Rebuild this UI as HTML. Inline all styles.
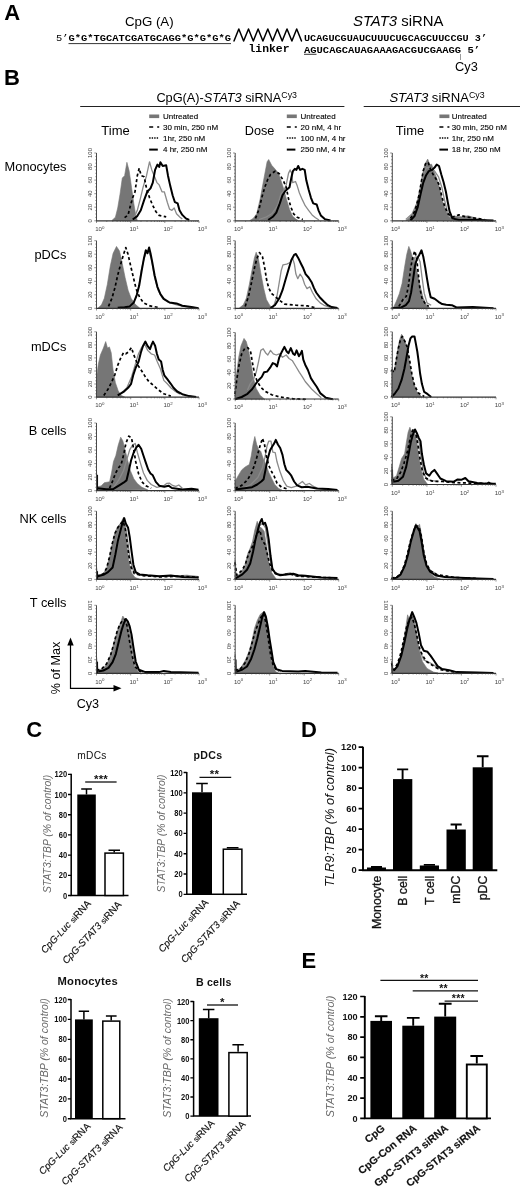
<!DOCTYPE html>
<html><head><meta charset="utf-8"><title>Figure</title>
<style>
html,body{margin:0;padding:0;background:#fff;}
body{width:520px;height:1191px;overflow:hidden;font-family:"Liberation Sans",sans-serif;}
svg{display:block;font-family:"Liberation Sans",sans-serif;}
#w{width:520px;height:1191px;overflow:hidden;filter:grayscale(1) blur(0.35px);background:#fff;}
</style></head><body>
<div id="w"><svg width="520" height="1191" viewBox="0 0 520 1191">
<rect width="520" height="1191" fill="#fff"/>
<g><path d="M111.9 220.5 L115.4 217.2 L117.7 208.0 L120.0 194.2 L122.3 178.0 L124.6 175.7 L126.9 162.3 L129.2 171.1 L131.5 187.2 L133.8 203.4 L135.7 214.9 L137.3 220.5Z" fill="#767676" stroke="#767676" stroke-width="0.6"/>
<path d="M133.8 218.4 L137.3 210.3 L140.3 198.8 L143.1 187.2 L146.5 175.7 L149.5 161.8 L151.8 169.9 L154.2 175.7 L156.9 182.6 L159.2 184.9 L162.0 191.8 L164.3 191.8 L167.3 202.2 L169.6 209.2 L171.9 210.3 L174.2 208.0 L176.5 213.8 L180.0 217.2 L182.3 219.1" fill="none" stroke="#8a8a8a" stroke-width="1.3" stroke-linejoin="round"/>
<path d="M124.6 217.7 L128.1 214.9 L130.4 205.7 L132.7 197.6 L135.0 191.8 L137.3 175.7 L139.2 168.3 L141.2 175.7 L144.2 176.8 L146.5 188.4 L149.5 197.6 L152.3 204.5 L155.8 211.5 L159.2 215.4 L166.2 216.8" fill="none" stroke="#000" stroke-width="1.7" stroke-dasharray="3 2.5" stroke-linejoin="round"/>
<path d="M132.7 219.5 L137.3 216.1 L140.8 210.3 L144.2 199.9 L147.2 191.8 L150.5 188.4 L152.8 182.6 L155.1 169.9 L157.4 164.6 L159.2 166.9 L160.4 162.3 L162.7 166.0 L166.2 165.3 L168.0 175.7 L170.3 186.1 L172.6 195.3 L174.9 202.2 L177.7 203.4 L179.5 210.3 L182.3 214.9 L185.8 218.4 L189.2 220.0" fill="none" stroke="#000" stroke-width="2.0" stroke-linejoin="round"/>
<path d="M96.5 153.0 V220.8" fill="none" stroke="#4a4a4a" stroke-width="1"/>
<path d="M96.0 220.8 H199.0" fill="none" stroke="#333" stroke-width="1.2"/>
<path d="M96.5 220.8 h-2.2 M96.5 217.4 h-1.2 M96.5 214.0 h-1.2 M96.5 210.6 h-1.2 M96.5 207.2 h-2.2 M96.5 203.9 h-1.2 M96.5 200.5 h-1.2 M96.5 197.1 h-1.2 M96.5 193.7 h-2.2 M96.5 190.3 h-1.2 M96.5 186.9 h-1.2 M96.5 183.5 h-1.2 M96.5 180.1 h-2.2 M96.5 176.7 h-1.2 M96.5 173.3 h-1.2 M96.5 169.9 h-1.2 M96.5 166.6 h-2.2 M96.5 163.2 h-1.2 M96.5 159.8 h-1.2 M96.5 156.4 h-1.2 M96.5 153.0 h-2.2 M96.5 220.8 v2.2 M106.8 220.8 v1.2 M112.8 220.8 v1.2 M117.1 220.8 v1.2 M120.4 220.8 v1.2 M123.1 220.8 v1.2 M125.4 220.8 v1.2 M127.4 220.8 v1.2 M129.1 220.8 v1.2 M130.7 220.8 v2.2 M141.0 220.8 v1.2 M147.0 220.8 v1.2 M151.2 220.8 v1.2 M154.5 220.8 v1.2 M157.3 220.8 v1.2 M159.5 220.8 v1.2 M161.5 220.8 v1.2 M163.3 220.8 v1.2 M164.8 220.8 v2.2 M175.1 220.8 v1.2 M181.1 220.8 v1.2 M185.4 220.8 v1.2 M188.7 220.8 v1.2 M191.4 220.8 v1.2 M193.7 220.8 v1.2 M195.7 220.8 v1.2 M197.4 220.8 v1.2 M199.0 220.8 v2.2" stroke="#4a4a4a" stroke-width="0.6" fill="none"/>
<text x="92.3" y="220.8" transform="rotate(-90 92.3 220.8)" text-anchor="middle" font-size="5.9" fill="#444">0</text>
<text x="92.3" y="207.2" transform="rotate(-90 92.3 207.2)" text-anchor="middle" font-size="5.9" fill="#444">20</text>
<text x="92.3" y="193.7" transform="rotate(-90 92.3 193.7)" text-anchor="middle" font-size="5.9" fill="#444">40</text>
<text x="92.3" y="180.1" transform="rotate(-90 92.3 180.1)" text-anchor="middle" font-size="5.9" fill="#444">60</text>
<text x="92.3" y="166.6" transform="rotate(-90 92.3 166.6)" text-anchor="middle" font-size="5.9" fill="#444">80</text>
<text x="92.3" y="153.0" transform="rotate(-90 92.3 153.0)" text-anchor="middle" font-size="5.9" fill="#444">100</text>
<text x="99.8" y="231.0" text-anchor="middle" font-size="6.1" fill="#444">10<tspan dy="-2.1" font-size="4.4">0</tspan></text>
<text x="134.0" y="231.0" text-anchor="middle" font-size="6.1" fill="#444">10<tspan dy="-2.1" font-size="4.4">1</tspan></text>
<text x="168.1" y="231.0" text-anchor="middle" font-size="6.1" fill="#444">10<tspan dy="-2.1" font-size="4.4">2</tspan></text>
<text x="202.3" y="231.0" text-anchor="middle" font-size="6.1" fill="#444">10<tspan dy="-2.1" font-size="4.4">3</tspan></text></g>
<g><path d="M249.8 220.5 L253.2 218.4 L256.7 213.8 L260.2 198.8 L263.6 180.3 L267.1 161.8 L268.7 159.5 L271.7 165.3 L275.2 169.2 L278.6 173.4 L283.2 187.2 L286.7 199.9 L289.5 209.2 L292.5 216.1 L295.9 219.1 L298.2 220.5Z" fill="#767676" stroke="#767676" stroke-width="0.6"/>
<path d="M259.0 219.5 L265.9 217.2 L271.7 213.8 L275.2 209.2 L277.9 204.5 L280.9 194.2 L283.9 190.7 L286.2 184.9 L288.5 173.4 L290.2 169.9 L291.8 173.4 L292.7 182.6 L295.5 181.5 L297.3 186.1 L299.4 193.0 L302.4 199.9 L305.2 205.7 L308.6 210.3 L312.1 214.9 L315.5 217.7 L319.0 220.0" fill="none" stroke="#8a8a8a" stroke-width="1.3" stroke-linejoin="round"/>
<path d="M255.5 218.4 L259.0 209.2 L261.8 197.6 L264.8 187.2 L267.8 179.2 L270.5 174.5 L275.2 171.1 L279.3 173.8 L283.2 180.3 L286.2 187.2 L288.5 198.8 L290.8 206.8 L293.6 213.8 L297.1 217.2 L302.8 219.5" fill="none" stroke="#000" stroke-width="1.7" stroke-dasharray="3 2.5" stroke-linejoin="round"/>
<path d="M268.2 220.0 L272.8 216.8 L276.3 212.6 L279.8 203.4 L282.5 195.3 L285.5 190.7 L289.5 187.2 L291.3 178.0 L292.9 171.1 L294.8 168.8 L296.4 169.9 L298.2 166.0 L300.1 169.9 L302.4 168.8 L304.7 169.9 L306.3 180.3 L308.6 189.5 L310.9 197.6 L313.2 203.4 L316.7 204.5 L318.5 210.3 L320.8 215.4 L324.8 219.1 L330.5 220.5" fill="none" stroke="#000" stroke-width="2.0" stroke-linejoin="round"/>
<path d="M235.2 153.0 V220.8" fill="none" stroke="#4a4a4a" stroke-width="1"/>
<path d="M234.7 220.8 H338.7" fill="none" stroke="#333" stroke-width="1.2"/>
<path d="M235.2 220.8 h-2.2 M235.2 217.4 h-1.2 M235.2 214.0 h-1.2 M235.2 210.6 h-1.2 M235.2 207.2 h-2.2 M235.2 203.9 h-1.2 M235.2 200.5 h-1.2 M235.2 197.1 h-1.2 M235.2 193.7 h-2.2 M235.2 190.3 h-1.2 M235.2 186.9 h-1.2 M235.2 183.5 h-1.2 M235.2 180.1 h-2.2 M235.2 176.7 h-1.2 M235.2 173.3 h-1.2 M235.2 169.9 h-1.2 M235.2 166.6 h-2.2 M235.2 163.2 h-1.2 M235.2 159.8 h-1.2 M235.2 156.4 h-1.2 M235.2 153.0 h-2.2 M235.2 220.8 v2.2 M245.6 220.8 v1.2 M251.7 220.8 v1.2 M256.0 220.8 v1.2 M259.3 220.8 v1.2 M262.0 220.8 v1.2 M264.4 220.8 v1.2 M266.4 220.8 v1.2 M268.1 220.8 v1.2 M269.7 220.8 v2.2 M280.1 220.8 v1.2 M286.2 220.8 v1.2 M290.5 220.8 v1.2 M293.8 220.8 v1.2 M296.5 220.8 v1.2 M298.9 220.8 v1.2 M300.9 220.8 v1.2 M302.6 220.8 v1.2 M304.2 220.8 v2.2 M314.6 220.8 v1.2 M320.7 220.8 v1.2 M325.0 220.8 v1.2 M328.3 220.8 v1.2 M331.0 220.8 v1.2 M333.4 220.8 v1.2 M335.4 220.8 v1.2 M337.1 220.8 v1.2 M338.7 220.8 v2.2" stroke="#4a4a4a" stroke-width="0.6" fill="none"/>
<text x="231.0" y="220.8" transform="rotate(-90 231.0 220.8)" text-anchor="middle" font-size="5.9" fill="#444">0</text>
<text x="231.0" y="207.2" transform="rotate(-90 231.0 207.2)" text-anchor="middle" font-size="5.9" fill="#444">20</text>
<text x="231.0" y="193.7" transform="rotate(-90 231.0 193.7)" text-anchor="middle" font-size="5.9" fill="#444">40</text>
<text x="231.0" y="180.1" transform="rotate(-90 231.0 180.1)" text-anchor="middle" font-size="5.9" fill="#444">60</text>
<text x="231.0" y="166.6" transform="rotate(-90 231.0 166.6)" text-anchor="middle" font-size="5.9" fill="#444">80</text>
<text x="231.0" y="153.0" transform="rotate(-90 231.0 153.0)" text-anchor="middle" font-size="5.9" fill="#444">100</text>
<text x="238.5" y="231.0" text-anchor="middle" font-size="6.1" fill="#444">10<tspan dy="-2.1" font-size="4.4">0</tspan></text>
<text x="273.0" y="231.0" text-anchor="middle" font-size="6.1" fill="#444">10<tspan dy="-2.1" font-size="4.4">1</tspan></text>
<text x="307.5" y="231.0" text-anchor="middle" font-size="6.1" fill="#444">10<tspan dy="-2.1" font-size="4.4">2</tspan></text>
<text x="342.0" y="231.0" text-anchor="middle" font-size="6.1" fill="#444">10<tspan dy="-2.1" font-size="4.4">3</tspan></text></g>
<g><path d="M405.8 220.5 L410.8 216.8 L414.5 210.3 L417.8 201.1 L420.1 188.4 L422.4 174.5 L424.7 164.6 L427.7 159.1 L429.8 164.6 L431.6 164.2 L433.9 171.1 L436.7 178.0 L439.5 187.7 L442.2 199.9 L445.5 210.3 L449.2 217.2 L454.2 216.1 L461.2 216.8 L468.1 215.8 L477.3 218.4 L486.5 220.0Z" fill="#767676" stroke="#767676" stroke-width="0.6"/>
<path d="M405.8 219.5 L412.2 213.8 L416.8 203.4 L420.8 187.2 L423.8 173.4 L426.5 167.6 L430.0 167.6 L434.6 171.1 L438.5 176.8 L441.8 187.2 L444.5 199.9 L447.3 211.5 L450.8 217.7 L454.2 219.5" fill="none" stroke="#8a8a8a" stroke-width="1.3" stroke-linejoin="round"/>
<path d="M410.4 218.4 L415.0 210.8 L418.5 197.6 L421.0 183.8 L423.3 170.6 L426.1 162.3 L428.4 163.0 L430.7 169.9 L433.5 175.2 L436.2 179.2 L439.2 184.9 L441.8 196.5 L444.5 205.7 L447.8 213.8 L452.4 217.2 L458.8 214.9 L465.8 216.8 L477.3 218.4 L484.2 219.5" fill="none" stroke="#000" stroke-width="1.7" stroke-dasharray="3 2.5" stroke-linejoin="round"/>
<path d="M410.4 220.5 L414.5 216.1 L417.8 206.8 L420.8 193.0 L423.3 182.6 L426.1 175.2 L428.8 171.1 L432.3 169.7 L434.6 167.6 L436.7 164.6 L439.0 166.0 L441.3 174.5 L443.6 182.2 L445.9 191.8 L447.8 202.2 L449.6 211.5 L452.4 218.4 L458.8 220.0 L477.3 220.0 L493.5 220.5" fill="none" stroke="#000" stroke-width="2.0" stroke-linejoin="round"/>
<path d="M392.3 153.0 V220.8" fill="none" stroke="#4a4a4a" stroke-width="1"/>
<path d="M391.8 220.8 H496.0" fill="none" stroke="#333" stroke-width="1.2"/>
<path d="M392.3 220.8 h-2.2 M392.3 217.4 h-1.2 M392.3 214.0 h-1.2 M392.3 210.6 h-1.2 M392.3 207.2 h-2.2 M392.3 203.9 h-1.2 M392.3 200.5 h-1.2 M392.3 197.1 h-1.2 M392.3 193.7 h-2.2 M392.3 190.3 h-1.2 M392.3 186.9 h-1.2 M392.3 183.5 h-1.2 M392.3 180.1 h-2.2 M392.3 176.7 h-1.2 M392.3 173.3 h-1.2 M392.3 169.9 h-1.2 M392.3 166.6 h-2.2 M392.3 163.2 h-1.2 M392.3 159.8 h-1.2 M392.3 156.4 h-1.2 M392.3 153.0 h-2.2 M392.3 220.8 v2.2 M402.7 220.8 v1.2 M408.8 220.8 v1.2 M413.1 220.8 v1.2 M416.5 220.8 v1.2 M419.2 220.8 v1.2 M421.5 220.8 v1.2 M423.5 220.8 v1.2 M425.3 220.8 v1.2 M426.9 220.8 v2.2 M437.3 220.8 v1.2 M443.4 220.8 v1.2 M447.7 220.8 v1.2 M451.0 220.8 v1.2 M453.8 220.8 v1.2 M456.1 220.8 v1.2 M458.1 220.8 v1.2 M459.9 220.8 v1.2 M461.4 220.8 v2.2 M471.8 220.8 v1.2 M477.9 220.8 v1.2 M482.2 220.8 v1.2 M485.6 220.8 v1.2 M488.3 220.8 v1.2 M490.6 220.8 v1.2 M492.7 220.8 v1.2 M494.4 220.8 v1.2 M496.0 220.8 v2.2" stroke="#4a4a4a" stroke-width="0.6" fill="none"/>
<text x="388.1" y="220.8" transform="rotate(-90 388.1 220.8)" text-anchor="middle" font-size="5.9" fill="#444">0</text>
<text x="388.1" y="207.2" transform="rotate(-90 388.1 207.2)" text-anchor="middle" font-size="5.9" fill="#444">20</text>
<text x="388.1" y="193.7" transform="rotate(-90 388.1 193.7)" text-anchor="middle" font-size="5.9" fill="#444">40</text>
<text x="388.1" y="180.1" transform="rotate(-90 388.1 180.1)" text-anchor="middle" font-size="5.9" fill="#444">60</text>
<text x="388.1" y="166.6" transform="rotate(-90 388.1 166.6)" text-anchor="middle" font-size="5.9" fill="#444">80</text>
<text x="388.1" y="153.0" transform="rotate(-90 388.1 153.0)" text-anchor="middle" font-size="5.9" fill="#444">100</text>
<text x="395.6" y="231.0" text-anchor="middle" font-size="6.1" fill="#444">10<tspan dy="-2.1" font-size="4.4">0</tspan></text>
<text x="430.2" y="231.0" text-anchor="middle" font-size="6.1" fill="#444">10<tspan dy="-2.1" font-size="4.4">1</tspan></text>
<text x="464.7" y="231.0" text-anchor="middle" font-size="6.1" fill="#444">10<tspan dy="-2.1" font-size="4.4">2</tspan></text>
<text x="499.3" y="231.0" text-anchor="middle" font-size="6.1" fill="#444">10<tspan dy="-2.1" font-size="4.4">3</tspan></text></g>
<g><path d="M98.1 308.0 L101.5 304.8 L104.3 298.3 L107.3 284.5 L110.3 266.0 L113.1 253.3 L116.5 246.4 L119.5 251.0 L122.3 263.7 L125.1 277.5 L128.1 290.2 L131.1 298.3 L135.0 304.1 L139.6 308.0Z" fill="#767676" stroke="#767676" stroke-width="0.6"/>
<path d="M131.1 306.4 L136.2 297.2 L138.9 285.6 L141.2 270.6 L144.2 257.9 L146.8 251.0 L149.1 252.2 L151.4 259.1 L154.6 277.5 L158.1 290.2 L162.7 298.8 L168.5 302.5 L177.7 305.2 L191.5 307.5" fill="none" stroke="#8a8a8a" stroke-width="1.3" stroke-linejoin="round"/>
<path d="M108.5 306.4 L111.9 298.3 L114.9 287.9 L117.7 275.2 L120.5 264.8 L123.5 254.5 L125.8 247.5 L128.1 254.5 L130.4 264.8 L133.4 277.5 L136.2 289.1 L139.6 297.2 L143.5 302.9 L150.0 305.9 L159.2 307.5" fill="none" stroke="#000" stroke-width="1.7" stroke-dasharray="3 2.5" stroke-linejoin="round"/>
<path d="M117.7 307.8 L124.6 307.3 L129.7 306.4 L133.8 302.5 L136.8 294.8 L139.2 285.6 L141.7 270.6 L144.0 257.9 L145.8 250.3 L147.5 253.3 L149.1 247.5 L150.5 253.3 L152.3 262.5 L154.6 275.2 L157.4 286.8 L160.4 294.2 L163.8 298.8 L169.6 302.5 L176.5 303.4 L182.3 305.7 L191.5 307.1 L198.5 308.2" fill="none" stroke="#000" stroke-width="2.0" stroke-linejoin="round"/>
<path d="M96.5 240.7 V308.3" fill="none" stroke="#4a4a4a" stroke-width="1"/>
<path d="M96.0 308.3 H199.0" fill="none" stroke="#333" stroke-width="1.2"/>
<path d="M96.5 308.3 h-2.2 M96.5 304.9 h-1.2 M96.5 301.5 h-1.2 M96.5 298.2 h-1.2 M96.5 294.8 h-2.2 M96.5 291.4 h-1.2 M96.5 288.0 h-1.2 M96.5 284.6 h-1.2 M96.5 281.3 h-2.2 M96.5 277.9 h-1.2 M96.5 274.5 h-1.2 M96.5 271.1 h-1.2 M96.5 267.7 h-2.2 M96.5 264.4 h-1.2 M96.5 261.0 h-1.2 M96.5 257.6 h-1.2 M96.5 254.2 h-2.2 M96.5 250.8 h-1.2 M96.5 247.5 h-1.2 M96.5 244.1 h-1.2 M96.5 240.7 h-2.2 M96.5 308.3 v2.2 M106.8 308.3 v1.2 M112.8 308.3 v1.2 M117.1 308.3 v1.2 M120.4 308.3 v1.2 M123.1 308.3 v1.2 M125.4 308.3 v1.2 M127.4 308.3 v1.2 M129.1 308.3 v1.2 M130.7 308.3 v2.2 M141.0 308.3 v1.2 M147.0 308.3 v1.2 M151.2 308.3 v1.2 M154.5 308.3 v1.2 M157.3 308.3 v1.2 M159.5 308.3 v1.2 M161.5 308.3 v1.2 M163.3 308.3 v1.2 M164.8 308.3 v2.2 M175.1 308.3 v1.2 M181.1 308.3 v1.2 M185.4 308.3 v1.2 M188.7 308.3 v1.2 M191.4 308.3 v1.2 M193.7 308.3 v1.2 M195.7 308.3 v1.2 M197.4 308.3 v1.2 M199.0 308.3 v2.2" stroke="#4a4a4a" stroke-width="0.6" fill="none"/>
<text x="92.3" y="308.3" transform="rotate(-90 92.3 308.3)" text-anchor="middle" font-size="5.9" fill="#444">0</text>
<text x="92.3" y="294.8" transform="rotate(-90 92.3 294.8)" text-anchor="middle" font-size="5.9" fill="#444">20</text>
<text x="92.3" y="281.3" transform="rotate(-90 92.3 281.3)" text-anchor="middle" font-size="5.9" fill="#444">40</text>
<text x="92.3" y="267.7" transform="rotate(-90 92.3 267.7)" text-anchor="middle" font-size="5.9" fill="#444">60</text>
<text x="92.3" y="254.2" transform="rotate(-90 92.3 254.2)" text-anchor="middle" font-size="5.9" fill="#444">80</text>
<text x="92.3" y="240.7" transform="rotate(-90 92.3 240.7)" text-anchor="middle" font-size="5.9" fill="#444">100</text>
<text x="99.8" y="318.5" text-anchor="middle" font-size="6.1" fill="#444">10<tspan dy="-2.1" font-size="4.4">0</tspan></text>
<text x="134.0" y="318.5" text-anchor="middle" font-size="6.1" fill="#444">10<tspan dy="-2.1" font-size="4.4">1</tspan></text>
<text x="168.1" y="318.5" text-anchor="middle" font-size="6.1" fill="#444">10<tspan dy="-2.1" font-size="4.4">2</tspan></text>
<text x="202.3" y="318.5" text-anchor="middle" font-size="6.1" fill="#444">10<tspan dy="-2.1" font-size="4.4">3</tspan></text></g>
<g><path d="M239.4 308.0 L243.3 304.8 L246.3 298.3 L249.3 284.5 L252.1 269.5 L254.4 257.9 L256.2 252.2 L258.5 259.1 L260.8 272.9 L263.6 287.9 L266.4 299.5 L270.1 305.9 L274.0 308.0Z" fill="#767676" stroke="#767676" stroke-width="0.6"/>
<path d="M274.0 305.2 L277.0 296.0 L279.3 282.2 L281.2 270.6 L283.0 264.8 L286.7 264.2 L290.2 262.5 L292.5 257.9 L294.3 263.7 L295.9 274.1 L297.8 278.7 L300.1 274.1 L302.4 277.5 L304.7 284.5 L307.0 288.6 L309.8 286.8 L312.5 292.5 L316.2 298.8 L320.2 302.9 L324.8 305.7 L330.5 307.5" fill="none" stroke="#8a8a8a" stroke-width="1.3" stroke-linejoin="round"/>
<path d="M245.2 306.4 L248.6 296.0 L251.6 282.2 L254.4 268.3 L256.7 259.1 L259.5 252.6 L262.5 256.8 L264.8 268.3 L266.6 279.8 L268.7 287.9 L271.7 293.7 L275.2 296.5 L278.6 299.5 L284.4 304.1 L295.9 305.2 L307.5 305.9 L316.7 308.0" fill="none" stroke="#000" stroke-width="1.7" stroke-dasharray="3 2.5" stroke-linejoin="round"/>
<path d="M270.5 308.0 L275.2 304.8 L279.3 298.3 L282.5 290.2 L285.5 279.8 L288.5 269.5 L291.3 260.2 L294.1 254.9 L295.9 254.0 L298.2 257.9 L301.0 263.7 L303.3 268.3 L305.6 274.1 L308.6 277.5 L311.6 282.2 L313.9 287.9 L316.2 292.5 L320.2 297.8 L324.1 301.8 L327.8 305.2 L331.7 307.1 L337.5 308.0" fill="none" stroke="#000" stroke-width="2.0" stroke-linejoin="round"/>
<path d="M235.2 240.7 V308.3" fill="none" stroke="#4a4a4a" stroke-width="1"/>
<path d="M234.7 308.3 H338.7" fill="none" stroke="#333" stroke-width="1.2"/>
<path d="M235.2 308.3 h-2.2 M235.2 304.9 h-1.2 M235.2 301.5 h-1.2 M235.2 298.2 h-1.2 M235.2 294.8 h-2.2 M235.2 291.4 h-1.2 M235.2 288.0 h-1.2 M235.2 284.6 h-1.2 M235.2 281.3 h-2.2 M235.2 277.9 h-1.2 M235.2 274.5 h-1.2 M235.2 271.1 h-1.2 M235.2 267.7 h-2.2 M235.2 264.4 h-1.2 M235.2 261.0 h-1.2 M235.2 257.6 h-1.2 M235.2 254.2 h-2.2 M235.2 250.8 h-1.2 M235.2 247.5 h-1.2 M235.2 244.1 h-1.2 M235.2 240.7 h-2.2 M235.2 308.3 v2.2 M245.6 308.3 v1.2 M251.7 308.3 v1.2 M256.0 308.3 v1.2 M259.3 308.3 v1.2 M262.0 308.3 v1.2 M264.4 308.3 v1.2 M266.4 308.3 v1.2 M268.1 308.3 v1.2 M269.7 308.3 v2.2 M280.1 308.3 v1.2 M286.2 308.3 v1.2 M290.5 308.3 v1.2 M293.8 308.3 v1.2 M296.5 308.3 v1.2 M298.9 308.3 v1.2 M300.9 308.3 v1.2 M302.6 308.3 v1.2 M304.2 308.3 v2.2 M314.6 308.3 v1.2 M320.7 308.3 v1.2 M325.0 308.3 v1.2 M328.3 308.3 v1.2 M331.0 308.3 v1.2 M333.4 308.3 v1.2 M335.4 308.3 v1.2 M337.1 308.3 v1.2 M338.7 308.3 v2.2" stroke="#4a4a4a" stroke-width="0.6" fill="none"/>
<text x="231.0" y="308.3" transform="rotate(-90 231.0 308.3)" text-anchor="middle" font-size="5.9" fill="#444">0</text>
<text x="231.0" y="294.8" transform="rotate(-90 231.0 294.8)" text-anchor="middle" font-size="5.9" fill="#444">20</text>
<text x="231.0" y="281.3" transform="rotate(-90 231.0 281.3)" text-anchor="middle" font-size="5.9" fill="#444">40</text>
<text x="231.0" y="267.7" transform="rotate(-90 231.0 267.7)" text-anchor="middle" font-size="5.9" fill="#444">60</text>
<text x="231.0" y="254.2" transform="rotate(-90 231.0 254.2)" text-anchor="middle" font-size="5.9" fill="#444">80</text>
<text x="231.0" y="240.7" transform="rotate(-90 231.0 240.7)" text-anchor="middle" font-size="5.9" fill="#444">100</text>
<text x="238.5" y="318.5" text-anchor="middle" font-size="6.1" fill="#444">10<tspan dy="-2.1" font-size="4.4">0</tspan></text>
<text x="273.0" y="318.5" text-anchor="middle" font-size="6.1" fill="#444">10<tspan dy="-2.1" font-size="4.4">1</tspan></text>
<text x="307.5" y="318.5" text-anchor="middle" font-size="6.1" fill="#444">10<tspan dy="-2.1" font-size="4.4">2</tspan></text>
<text x="342.0" y="318.5" text-anchor="middle" font-size="6.1" fill="#444">10<tspan dy="-2.1" font-size="4.4">3</tspan></text></g>
<g><path d="M393.1 308.2 L396.1 301.8 L399.3 293.7 L402.1 283.3 L404.4 268.3 L406.7 254.5 L408.8 246.4 L410.4 250.3 L412.2 256.3 L414.5 260.2 L417.3 272.9 L420.1 285.6 L423.1 297.8 L426.5 305.2 L430.0 308.2Z" fill="#767676" stroke="#767676" stroke-width="0.6"/>
<path d="M401.2 306.4 L406.2 297.2 L409.5 279.8 L412.2 263.7 L415.0 257.2 L417.8 256.8 L420.1 261.8 L421.9 276.4 L424.2 293.2 L427.0 302.9 L431.2 305.2" fill="none" stroke="#8a8a8a" stroke-width="1.3" stroke-linejoin="round"/>
<path d="M398.8 306.4 L403.0 299.5 L406.2 296.5 L408.5 285.6 L410.8 267.2 L413.2 255.6 L414.8 251.0 L416.6 257.9 L418.2 272.9 L419.8 287.9 L421.9 297.8 L425.4 304.1 L428.8 306.4" fill="none" stroke="#000" stroke-width="1.7" stroke-dasharray="3 2.5" stroke-linejoin="round"/>
<path d="M391.5 308.2 L401.2 307.5 L405.8 305.2 L409.0 301.1 L411.1 292.5 L413.2 278.7 L415.0 266.0 L416.8 259.1 L418.9 255.6 L421.5 250.3 L423.3 256.8 L425.2 267.2 L427.0 278.7 L428.8 289.1 L430.7 297.2 L434.6 298.8 L438.5 301.8 L442.2 304.1 L446.2 304.8 L451.9 305.2 L456.5 307.5 L472.7 307.1 L493.5 308.2" fill="none" stroke="#000" stroke-width="2.0" stroke-linejoin="round"/>
<path d="M392.3 240.7 V308.3" fill="none" stroke="#4a4a4a" stroke-width="1"/>
<path d="M391.8 308.3 H496.0" fill="none" stroke="#333" stroke-width="1.2"/>
<path d="M392.3 308.3 h-2.2 M392.3 304.9 h-1.2 M392.3 301.5 h-1.2 M392.3 298.2 h-1.2 M392.3 294.8 h-2.2 M392.3 291.4 h-1.2 M392.3 288.0 h-1.2 M392.3 284.6 h-1.2 M392.3 281.3 h-2.2 M392.3 277.9 h-1.2 M392.3 274.5 h-1.2 M392.3 271.1 h-1.2 M392.3 267.7 h-2.2 M392.3 264.4 h-1.2 M392.3 261.0 h-1.2 M392.3 257.6 h-1.2 M392.3 254.2 h-2.2 M392.3 250.8 h-1.2 M392.3 247.5 h-1.2 M392.3 244.1 h-1.2 M392.3 240.7 h-2.2 M392.3 308.3 v2.2 M402.7 308.3 v1.2 M408.8 308.3 v1.2 M413.1 308.3 v1.2 M416.5 308.3 v1.2 M419.2 308.3 v1.2 M421.5 308.3 v1.2 M423.5 308.3 v1.2 M425.3 308.3 v1.2 M426.9 308.3 v2.2 M437.3 308.3 v1.2 M443.4 308.3 v1.2 M447.7 308.3 v1.2 M451.0 308.3 v1.2 M453.8 308.3 v1.2 M456.1 308.3 v1.2 M458.1 308.3 v1.2 M459.9 308.3 v1.2 M461.4 308.3 v2.2 M471.8 308.3 v1.2 M477.9 308.3 v1.2 M482.2 308.3 v1.2 M485.6 308.3 v1.2 M488.3 308.3 v1.2 M490.6 308.3 v1.2 M492.7 308.3 v1.2 M494.4 308.3 v1.2 M496.0 308.3 v2.2" stroke="#4a4a4a" stroke-width="0.6" fill="none"/>
<text x="388.1" y="308.3" transform="rotate(-90 388.1 308.3)" text-anchor="middle" font-size="5.9" fill="#444">0</text>
<text x="388.1" y="294.8" transform="rotate(-90 388.1 294.8)" text-anchor="middle" font-size="5.9" fill="#444">20</text>
<text x="388.1" y="281.3" transform="rotate(-90 388.1 281.3)" text-anchor="middle" font-size="5.9" fill="#444">40</text>
<text x="388.1" y="267.7" transform="rotate(-90 388.1 267.7)" text-anchor="middle" font-size="5.9" fill="#444">60</text>
<text x="388.1" y="254.2" transform="rotate(-90 388.1 254.2)" text-anchor="middle" font-size="5.9" fill="#444">80</text>
<text x="388.1" y="240.7" transform="rotate(-90 388.1 240.7)" text-anchor="middle" font-size="5.9" fill="#444">100</text>
<text x="395.6" y="318.5" text-anchor="middle" font-size="6.1" fill="#444">10<tspan dy="-2.1" font-size="4.4">0</tspan></text>
<text x="430.2" y="318.5" text-anchor="middle" font-size="6.1" fill="#444">10<tspan dy="-2.1" font-size="4.4">1</tspan></text>
<text x="464.7" y="318.5" text-anchor="middle" font-size="6.1" fill="#444">10<tspan dy="-2.1" font-size="4.4">2</tspan></text>
<text x="499.3" y="318.5" text-anchor="middle" font-size="6.1" fill="#444">10<tspan dy="-2.1" font-size="4.4">3</tspan></text></g>
<g><path d="M96.5 397.0 L96.5 378.1 L98.3 364.2 L100.4 355.0 L103.4 348.1 L105.7 341.6 L107.5 348.1 L109.4 346.9 L111.2 352.7 L113.1 370.0 L115.4 382.7 L118.2 390.8 L121.2 395.4 L124.6 397.0Z" fill="#767676" stroke="#767676" stroke-width="0.6"/>
<path d="M120.0 394.2 L126.9 387.8 L131.5 376.9 L135.0 365.4 L138.5 353.8 L141.9 346.9 L144.9 344.6 L147.7 350.4 L151.2 353.8 L154.6 355.0 L157.4 361.9 L160.4 368.8 L163.8 380.4 L167.3 383.8 L170.8 387.8 L175.4 391.5 L180.0 394.2" fill="none" stroke="#8a8a8a" stroke-width="1.3" stroke-linejoin="round"/>
<path d="M103.8 395.4 L108.5 388.5 L111.9 381.5 L114.9 374.6 L117.7 365.4 L120.5 358.5 L123.5 352.7 L125.8 353.8 L128.1 352.2 L131.5 347.6 L133.4 353.8 L135.7 359.6 L138.5 366.1 L141.9 371.2 L145.4 376.9 L148.8 381.5 L153.5 385.5 L158.1 389.6 L163.8 393.8 L170.8 396.1" fill="none" stroke="#000" stroke-width="1.7" stroke-dasharray="3 2.5" stroke-linejoin="round"/>
<path d="M117.7 395.4 L123.5 391.9 L128.1 387.8 L131.1 383.8 L133.4 374.6 L135.7 367.7 L138.5 361.9 L140.8 352.7 L143.1 345.8 L145.4 341.6 L147.7 346.2 L150.0 349.2 L151.6 344.6 L153.0 341.6 L155.1 345.8 L156.9 353.8 L158.8 359.6 L161.1 361.5 L162.7 370.0 L164.3 375.3 L167.3 379.2 L170.8 383.8 L173.5 387.8 L177.2 391.5 L182.3 394.2 L189.2 396.1 L196.2 397.0" fill="none" stroke="#000" stroke-width="2.0" stroke-linejoin="round"/>
<path d="M96.5 331.8 V397.1" fill="none" stroke="#4a4a4a" stroke-width="1"/>
<path d="M96.0 397.1 H199.0" fill="none" stroke="#333" stroke-width="1.2"/>
<path d="M96.5 397.1 h-2.2 M96.5 393.8 h-1.2 M96.5 390.6 h-1.2 M96.5 387.3 h-1.2 M96.5 384.0 h-2.2 M96.5 380.8 h-1.2 M96.5 377.5 h-1.2 M96.5 374.2 h-1.2 M96.5 371.0 h-2.2 M96.5 367.7 h-1.2 M96.5 364.5 h-1.2 M96.5 361.2 h-1.2 M96.5 357.9 h-2.2 M96.5 354.7 h-1.2 M96.5 351.4 h-1.2 M96.5 348.1 h-1.2 M96.5 344.9 h-2.2 M96.5 341.6 h-1.2 M96.5 338.3 h-1.2 M96.5 335.1 h-1.2 M96.5 331.8 h-2.2 M96.5 397.1 v2.2 M106.8 397.1 v1.2 M112.8 397.1 v1.2 M117.1 397.1 v1.2 M120.4 397.1 v1.2 M123.1 397.1 v1.2 M125.4 397.1 v1.2 M127.4 397.1 v1.2 M129.1 397.1 v1.2 M130.7 397.1 v2.2 M141.0 397.1 v1.2 M147.0 397.1 v1.2 M151.2 397.1 v1.2 M154.5 397.1 v1.2 M157.3 397.1 v1.2 M159.5 397.1 v1.2 M161.5 397.1 v1.2 M163.3 397.1 v1.2 M164.8 397.1 v2.2 M175.1 397.1 v1.2 M181.1 397.1 v1.2 M185.4 397.1 v1.2 M188.7 397.1 v1.2 M191.4 397.1 v1.2 M193.7 397.1 v1.2 M195.7 397.1 v1.2 M197.4 397.1 v1.2 M199.0 397.1 v2.2" stroke="#4a4a4a" stroke-width="0.6" fill="none"/>
<text x="92.3" y="397.1" transform="rotate(-90 92.3 397.1)" text-anchor="middle" font-size="5.9" fill="#444">0</text>
<text x="92.3" y="384.0" transform="rotate(-90 92.3 384.0)" text-anchor="middle" font-size="5.9" fill="#444">20</text>
<text x="92.3" y="371.0" transform="rotate(-90 92.3 371.0)" text-anchor="middle" font-size="5.9" fill="#444">40</text>
<text x="92.3" y="357.9" transform="rotate(-90 92.3 357.9)" text-anchor="middle" font-size="5.9" fill="#444">60</text>
<text x="92.3" y="344.9" transform="rotate(-90 92.3 344.9)" text-anchor="middle" font-size="5.9" fill="#444">80</text>
<text x="92.3" y="331.8" transform="rotate(-90 92.3 331.8)" text-anchor="middle" font-size="5.9" fill="#444">100</text>
<text x="99.8" y="407.3" text-anchor="middle" font-size="6.1" fill="#444">10<tspan dy="-2.1" font-size="4.4">0</tspan></text>
<text x="134.0" y="407.3" text-anchor="middle" font-size="6.1" fill="#444">10<tspan dy="-2.1" font-size="4.4">1</tspan></text>
<text x="168.1" y="407.3" text-anchor="middle" font-size="6.1" fill="#444">10<tspan dy="-2.1" font-size="4.4">2</tspan></text>
<text x="202.3" y="407.3" text-anchor="middle" font-size="6.1" fill="#444">10<tspan dy="-2.1" font-size="4.4">3</tspan></text></g>
<g><path d="M235.0 399.3 L235.0 391.9 L236.6 373.5 L238.7 357.3 L241.0 345.8 L244.0 338.4 L246.3 341.6 L248.6 350.4 L250.9 363.1 L253.2 376.9 L256.2 388.5 L260.2 395.4 L264.8 399.3Z" fill="#767676" stroke="#767676" stroke-width="0.6"/>
<path d="M247.5 390.1 L250.2 383.8 L253.2 379.9 L256.2 372.3 L258.5 361.9 L260.8 350.4 L263.2 348.8 L265.5 352.7 L267.8 355.0 L270.5 350.4 L273.3 353.8 L276.3 355.0 L279.3 353.8 L282.5 357.3 L286.2 355.0 L289.0 358.5 L292.5 360.8 L295.9 366.5 L299.4 372.3 L302.4 376.9 L305.2 381.5 L308.6 385.5 L312.1 389.6 L316.7 393.8 L321.3 397.7" fill="none" stroke="#8a8a8a" stroke-width="1.3" stroke-linejoin="round"/>
<path d="M235.0 394.2 L236.8 379.2 L239.2 364.2 L241.7 353.8 L244.7 348.5 L247.9 347.6 L250.7 352.2 L252.5 363.1 L254.8 374.6 L257.2 381.5 L260.8 387.3 L265.5 391.5 L271.7 394.7 L279.8 397.0 L293.6 398.8 L307.5 399.3" fill="none" stroke="#000" stroke-width="1.7" stroke-dasharray="3 2.5" stroke-linejoin="round"/>
<path d="M235.0 399.3 L241.7 397.0 L247.5 393.8 L252.1 389.2 L256.2 383.2 L259.5 379.2 L261.8 376.9 L264.1 372.3 L267.1 371.6 L270.1 367.7 L272.8 363.1 L275.2 364.2 L277.0 366.5 L279.3 357.3 L281.6 352.2 L284.4 346.9 L286.7 351.5 L288.5 353.2 L290.8 348.1 L293.2 353.8 L294.8 355.0 L296.6 350.4 L298.9 356.2 L300.5 353.8 L301.9 350.8 L303.3 359.6 L305.2 364.7 L307.9 370.0 L310.9 378.1 L313.9 382.7 L316.7 386.8 L320.2 393.1 L325.9 397.7 L332.8 399.3" fill="none" stroke="#000" stroke-width="2.0" stroke-linejoin="round"/>
<path d="M235.2 332.5 V399.0" fill="none" stroke="#4a4a4a" stroke-width="1"/>
<path d="M234.7 399.0 H338.7" fill="none" stroke="#333" stroke-width="1.2"/>
<path d="M235.2 399.0 h-2.2 M235.2 395.7 h-1.2 M235.2 392.4 h-1.2 M235.2 389.0 h-1.2 M235.2 385.7 h-2.2 M235.2 382.4 h-1.2 M235.2 379.1 h-1.2 M235.2 375.7 h-1.2 M235.2 372.4 h-2.2 M235.2 369.1 h-1.2 M235.2 365.8 h-1.2 M235.2 362.4 h-1.2 M235.2 359.1 h-2.2 M235.2 355.8 h-1.2 M235.2 352.4 h-1.2 M235.2 349.1 h-1.2 M235.2 345.8 h-2.2 M235.2 342.5 h-1.2 M235.2 339.1 h-1.2 M235.2 335.8 h-1.2 M235.2 332.5 h-2.2 M235.2 399.0 v2.2 M245.6 399.0 v1.2 M251.7 399.0 v1.2 M256.0 399.0 v1.2 M259.3 399.0 v1.2 M262.0 399.0 v1.2 M264.4 399.0 v1.2 M266.4 399.0 v1.2 M268.1 399.0 v1.2 M269.7 399.0 v2.2 M280.1 399.0 v1.2 M286.2 399.0 v1.2 M290.5 399.0 v1.2 M293.8 399.0 v1.2 M296.5 399.0 v1.2 M298.9 399.0 v1.2 M300.9 399.0 v1.2 M302.6 399.0 v1.2 M304.2 399.0 v2.2 M314.6 399.0 v1.2 M320.7 399.0 v1.2 M325.0 399.0 v1.2 M328.3 399.0 v1.2 M331.0 399.0 v1.2 M333.4 399.0 v1.2 M335.4 399.0 v1.2 M337.1 399.0 v1.2 M338.7 399.0 v2.2" stroke="#4a4a4a" stroke-width="0.6" fill="none"/>
<text x="231.0" y="399.0" transform="rotate(-90 231.0 399.0)" text-anchor="middle" font-size="5.9" fill="#444">0</text>
<text x="231.0" y="385.7" transform="rotate(-90 231.0 385.7)" text-anchor="middle" font-size="5.9" fill="#444">20</text>
<text x="231.0" y="372.4" transform="rotate(-90 231.0 372.4)" text-anchor="middle" font-size="5.9" fill="#444">40</text>
<text x="231.0" y="359.1" transform="rotate(-90 231.0 359.1)" text-anchor="middle" font-size="5.9" fill="#444">60</text>
<text x="231.0" y="345.8" transform="rotate(-90 231.0 345.8)" text-anchor="middle" font-size="5.9" fill="#444">80</text>
<text x="231.0" y="332.5" transform="rotate(-90 231.0 332.5)" text-anchor="middle" font-size="5.9" fill="#444">100</text>
<text x="238.5" y="409.2" text-anchor="middle" font-size="6.1" fill="#444">10<tspan dy="-2.1" font-size="4.4">0</tspan></text>
<text x="273.0" y="409.2" text-anchor="middle" font-size="6.1" fill="#444">10<tspan dy="-2.1" font-size="4.4">1</tspan></text>
<text x="307.5" y="409.2" text-anchor="middle" font-size="6.1" fill="#444">10<tspan dy="-2.1" font-size="4.4">2</tspan></text>
<text x="342.0" y="409.2" text-anchor="middle" font-size="6.1" fill="#444">10<tspan dy="-2.1" font-size="4.4">3</tspan></text></g>
<g><path d="M391.5 397.0 L391.5 368.8 L394.2 371.2 L396.1 359.6 L397.9 348.1 L399.8 339.3 L401.6 334.2 L403.9 338.8 L406.2 344.6 L408.5 356.2 L410.8 370.0 L413.6 382.7 L416.8 391.5 L421.9 397.0Z" fill="#767676" stroke="#767676" stroke-width="0.6"/>
<path d="M391.5 370.0 L394.2 372.3 L396.3 359.6 L398.4 348.1 L400.2 340.7 L402.3 336.5 L404.8 341.2 L407.2 346.9 L409.5 359.6 L411.8 373.5 L414.5 385.5 L418.5 393.1 L424.2 396.5" fill="none" stroke="#000" stroke-width="1.7" stroke-dasharray="3 2.5" stroke-linejoin="round"/>
<path d="M391.5 397.0 L394.7 393.8 L398.4 388.5 L401.6 379.9 L404.4 368.8 L406.7 356.2 L408.5 345.8 L410.4 338.4 L412.2 336.5 L414.5 336.5 L415.9 343.9 L417.3 351.5 L418.7 361.9 L420.1 373.5 L421.9 383.8 L424.2 391.9 L427.7 394.2 L431.2 397.0" fill="none" stroke="#000" stroke-width="2.0" stroke-linejoin="round"/>
<path d="M392.3 331.8 V397.1" fill="none" stroke="#4a4a4a" stroke-width="1"/>
<path d="M391.8 397.1 H496.0" fill="none" stroke="#333" stroke-width="1.2"/>
<path d="M392.3 397.1 h-2.2 M392.3 393.8 h-1.2 M392.3 390.6 h-1.2 M392.3 387.3 h-1.2 M392.3 384.0 h-2.2 M392.3 380.8 h-1.2 M392.3 377.5 h-1.2 M392.3 374.2 h-1.2 M392.3 371.0 h-2.2 M392.3 367.7 h-1.2 M392.3 364.5 h-1.2 M392.3 361.2 h-1.2 M392.3 357.9 h-2.2 M392.3 354.7 h-1.2 M392.3 351.4 h-1.2 M392.3 348.1 h-1.2 M392.3 344.9 h-2.2 M392.3 341.6 h-1.2 M392.3 338.3 h-1.2 M392.3 335.1 h-1.2 M392.3 331.8 h-2.2 M392.3 397.1 v2.2 M402.7 397.1 v1.2 M408.8 397.1 v1.2 M413.1 397.1 v1.2 M416.5 397.1 v1.2 M419.2 397.1 v1.2 M421.5 397.1 v1.2 M423.5 397.1 v1.2 M425.3 397.1 v1.2 M426.9 397.1 v2.2 M437.3 397.1 v1.2 M443.4 397.1 v1.2 M447.7 397.1 v1.2 M451.0 397.1 v1.2 M453.8 397.1 v1.2 M456.1 397.1 v1.2 M458.1 397.1 v1.2 M459.9 397.1 v1.2 M461.4 397.1 v2.2 M471.8 397.1 v1.2 M477.9 397.1 v1.2 M482.2 397.1 v1.2 M485.6 397.1 v1.2 M488.3 397.1 v1.2 M490.6 397.1 v1.2 M492.7 397.1 v1.2 M494.4 397.1 v1.2 M496.0 397.1 v2.2" stroke="#4a4a4a" stroke-width="0.6" fill="none"/>
<text x="388.1" y="397.1" transform="rotate(-90 388.1 397.1)" text-anchor="middle" font-size="5.9" fill="#444">0</text>
<text x="388.1" y="384.0" transform="rotate(-90 388.1 384.0)" text-anchor="middle" font-size="5.9" fill="#444">20</text>
<text x="388.1" y="371.0" transform="rotate(-90 388.1 371.0)" text-anchor="middle" font-size="5.9" fill="#444">40</text>
<text x="388.1" y="357.9" transform="rotate(-90 388.1 357.9)" text-anchor="middle" font-size="5.9" fill="#444">60</text>
<text x="388.1" y="344.9" transform="rotate(-90 388.1 344.9)" text-anchor="middle" font-size="5.9" fill="#444">80</text>
<text x="388.1" y="331.8" transform="rotate(-90 388.1 331.8)" text-anchor="middle" font-size="5.9" fill="#444">100</text>
<text x="395.6" y="407.3" text-anchor="middle" font-size="6.1" fill="#444">10<tspan dy="-2.1" font-size="4.4">0</tspan></text>
<text x="430.2" y="407.3" text-anchor="middle" font-size="6.1" fill="#444">10<tspan dy="-2.1" font-size="4.4">1</tspan></text>
<text x="464.7" y="407.3" text-anchor="middle" font-size="6.1" fill="#444">10<tspan dy="-2.1" font-size="4.4">2</tspan></text>
<text x="499.3" y="407.3" text-anchor="middle" font-size="6.1" fill="#444">10<tspan dy="-2.1" font-size="4.4">3</tspan></text></g>
<g><path d="M96.5 490.3 L96.5 470.7 L97.4 486.8 L101.1 485.9 L104.3 482.7 L109.6 481.8 L111.5 473.0 L113.5 461.5 L115.8 455.7 L118.2 445.3 L120.7 437.2 L122.8 440.7 L125.1 449.9 L127.4 459.2 L130.4 470.7 L133.8 478.8 L137.3 483.4 L141.9 487.3 L147.7 489.8Z" fill="#767676" stroke="#767676" stroke-width="0.6"/>
<path d="M113.1 488.2 L118.8 479.9 L123.5 470.7 L126.9 459.2 L129.7 449.9 L132.7 444.8 L135.2 443.5 L137.3 452.2 L140.3 462.6 L143.5 473.0 L147.2 480.4 L151.2 484.5 L156.9 487.3 L163.4 485.9 L166.6 483.4 L169.6 483.2 L172.6 485.5 L175.8 486.4 L178.8 485.0 L182.3 488.2" fill="none" stroke="#8a8a8a" stroke-width="1.3" stroke-linejoin="round"/>
<path d="M109.6 488.2 L112.6 481.1 L115.4 473.5 L118.2 468.4 L121.2 464.2 L123.7 454.5 L126.0 443.0 L128.8 436.1 L131.5 437.9 L133.4 447.6 L135.7 461.5 L138.5 473.5 L141.9 481.8 L145.8 485.7 L151.2 488.2" fill="none" stroke="#000" stroke-width="1.7" stroke-dasharray="3 2.5" stroke-linejoin="round"/>
<path d="M97.4 490.3 V474.8" stroke="#111" stroke-width="1.3"/>
<path d="M97.6 488.2 L106.2 489.2 L113.1 489.2 L118.8 485.7 L123.5 482.7 L126.5 480.4 L128.8 470.7 L131.1 460.3 L133.8 452.2 L136.2 447.6 L138.5 444.8 L141.2 448.8 L143.5 455.7 L145.8 462.6 L148.2 469.5 L150.5 473.5 L152.8 475.3 L155.8 481.8 L159.2 485.7 L164.3 486.8 L168.5 485.7 L171.9 488.0 L182.3 489.6 L191.5 488.7 L198.5 489.8" fill="none" stroke="#000" stroke-width="2.0" stroke-linejoin="round"/>
<path d="M96.5 423.0 V490.7" fill="none" stroke="#4a4a4a" stroke-width="1"/>
<path d="M96.0 490.7 H199.0" fill="none" stroke="#333" stroke-width="1.2"/>
<path d="M96.5 490.7 h-2.2 M96.5 487.3 h-1.2 M96.5 483.9 h-1.2 M96.5 480.5 h-1.2 M96.5 477.2 h-2.2 M96.5 473.8 h-1.2 M96.5 470.4 h-1.2 M96.5 467.0 h-1.2 M96.5 463.6 h-2.2 M96.5 460.2 h-1.2 M96.5 456.9 h-1.2 M96.5 453.5 h-1.2 M96.5 450.1 h-2.2 M96.5 446.7 h-1.2 M96.5 443.3 h-1.2 M96.5 439.9 h-1.2 M96.5 436.5 h-2.2 M96.5 433.2 h-1.2 M96.5 429.8 h-1.2 M96.5 426.4 h-1.2 M96.5 423.0 h-2.2 M96.5 490.7 v2.2 M106.8 490.7 v1.2 M112.8 490.7 v1.2 M117.1 490.7 v1.2 M120.4 490.7 v1.2 M123.1 490.7 v1.2 M125.4 490.7 v1.2 M127.4 490.7 v1.2 M129.1 490.7 v1.2 M130.7 490.7 v2.2 M141.0 490.7 v1.2 M147.0 490.7 v1.2 M151.2 490.7 v1.2 M154.5 490.7 v1.2 M157.3 490.7 v1.2 M159.5 490.7 v1.2 M161.5 490.7 v1.2 M163.3 490.7 v1.2 M164.8 490.7 v2.2 M175.1 490.7 v1.2 M181.1 490.7 v1.2 M185.4 490.7 v1.2 M188.7 490.7 v1.2 M191.4 490.7 v1.2 M193.7 490.7 v1.2 M195.7 490.7 v1.2 M197.4 490.7 v1.2 M199.0 490.7 v2.2" stroke="#4a4a4a" stroke-width="0.6" fill="none"/>
<text x="92.3" y="490.7" transform="rotate(-90 92.3 490.7)" text-anchor="middle" font-size="5.9" fill="#444">0</text>
<text x="92.3" y="477.2" transform="rotate(-90 92.3 477.2)" text-anchor="middle" font-size="5.9" fill="#444">20</text>
<text x="92.3" y="463.6" transform="rotate(-90 92.3 463.6)" text-anchor="middle" font-size="5.9" fill="#444">40</text>
<text x="92.3" y="450.1" transform="rotate(-90 92.3 450.1)" text-anchor="middle" font-size="5.9" fill="#444">60</text>
<text x="92.3" y="436.5" transform="rotate(-90 92.3 436.5)" text-anchor="middle" font-size="5.9" fill="#444">80</text>
<text x="92.3" y="423.0" transform="rotate(-90 92.3 423.0)" text-anchor="middle" font-size="5.9" fill="#444">100</text>
<text x="99.8" y="500.9" text-anchor="middle" font-size="6.1" fill="#444">10<tspan dy="-2.1" font-size="4.4">0</tspan></text>
<text x="134.0" y="500.9" text-anchor="middle" font-size="6.1" fill="#444">10<tspan dy="-2.1" font-size="4.4">1</tspan></text>
<text x="168.1" y="500.9" text-anchor="middle" font-size="6.1" fill="#444">10<tspan dy="-2.1" font-size="4.4">2</tspan></text>
<text x="202.3" y="500.9" text-anchor="middle" font-size="6.1" fill="#444">10<tspan dy="-2.1" font-size="4.4">3</tspan></text></g>
<g><path d="M235.0 490.2 L235.0 481.5 L238.2 475.7 L241.7 469.9 L245.2 466.9 L249.3 464.6 L251.2 456.1 L253.0 444.5 L254.8 436.5 L256.7 444.5 L258.5 449.2 L260.8 451.5 L263.2 458.4 L265.9 464.2 L268.7 472.2 L271.7 478.5 L274.7 484.5 L278.6 488.4 L282.1 490.2Z" fill="#767676" stroke="#767676" stroke-width="0.6"/>
<path d="M242.8 488.4 L250.9 484.5 L257.8 477.5 L262.5 467.6 L265.0 457.2 L267.1 445.7 L268.7 441.1 L271.0 441.1 L272.8 452.2 L275.2 452.6 L277.0 461.8 L279.8 471.1 L283.2 480.3 L286.7 486.1 L291.3 487.7 L296.4 486.1 L299.4 483.8 L302.4 481.5 L305.6 484.9 L309.3 483.5 L312.5 485.8 L317.8 488.4 L325.9 489.5" fill="none" stroke="#8a8a8a" stroke-width="1.3" stroke-linejoin="round"/>
<path d="M235.0 488.4 L241.7 485.4 L247.5 479.8 L251.6 472.9 L254.4 465.3 L257.2 456.1 L259.9 446.2 L262.5 438.3 L264.5 444.5 L266.4 456.1 L268.7 465.3 L271.5 471.5 L274.2 476.2 L277.0 483.1 L281.6 487.2 L289.0 489.5" fill="none" stroke="#000" stroke-width="1.7" stroke-dasharray="3 2.5" stroke-linejoin="round"/>
<path d="M235.0 489.5 L242.8 488.4 L252.1 487.2 L257.2 484.5 L261.3 481.5 L263.6 479.2 L265.5 469.9 L267.8 458.4 L270.1 450.3 L272.4 446.2 L274.2 443.4 L275.8 439.9 L277.9 444.5 L280.2 448.0 L282.5 454.9 L284.4 464.2 L286.2 469.9 L288.5 472.2 L291.3 475.7 L294.1 481.5 L297.1 485.4 L301.7 487.2 L307.5 486.8 L316.7 488.4 L328.2 489.1 L337.5 490.0" fill="none" stroke="#000" stroke-width="2.0" stroke-linejoin="round"/>
<path d="M235.2 423.0 V490.7" fill="none" stroke="#4a4a4a" stroke-width="1"/>
<path d="M234.7 490.7 H338.7" fill="none" stroke="#333" stroke-width="1.2"/>
<path d="M235.2 490.7 h-2.2 M235.2 487.3 h-1.2 M235.2 483.9 h-1.2 M235.2 480.5 h-1.2 M235.2 477.2 h-2.2 M235.2 473.8 h-1.2 M235.2 470.4 h-1.2 M235.2 467.0 h-1.2 M235.2 463.6 h-2.2 M235.2 460.2 h-1.2 M235.2 456.9 h-1.2 M235.2 453.5 h-1.2 M235.2 450.1 h-2.2 M235.2 446.7 h-1.2 M235.2 443.3 h-1.2 M235.2 439.9 h-1.2 M235.2 436.5 h-2.2 M235.2 433.2 h-1.2 M235.2 429.8 h-1.2 M235.2 426.4 h-1.2 M235.2 423.0 h-2.2 M235.2 490.7 v2.2 M245.6 490.7 v1.2 M251.7 490.7 v1.2 M256.0 490.7 v1.2 M259.3 490.7 v1.2 M262.0 490.7 v1.2 M264.4 490.7 v1.2 M266.4 490.7 v1.2 M268.1 490.7 v1.2 M269.7 490.7 v2.2 M280.1 490.7 v1.2 M286.2 490.7 v1.2 M290.5 490.7 v1.2 M293.8 490.7 v1.2 M296.5 490.7 v1.2 M298.9 490.7 v1.2 M300.9 490.7 v1.2 M302.6 490.7 v1.2 M304.2 490.7 v2.2 M314.6 490.7 v1.2 M320.7 490.7 v1.2 M325.0 490.7 v1.2 M328.3 490.7 v1.2 M331.0 490.7 v1.2 M333.4 490.7 v1.2 M335.4 490.7 v1.2 M337.1 490.7 v1.2 M338.7 490.7 v2.2" stroke="#4a4a4a" stroke-width="0.6" fill="none"/>
<text x="231.0" y="490.7" transform="rotate(-90 231.0 490.7)" text-anchor="middle" font-size="5.9" fill="#444">0</text>
<text x="231.0" y="477.2" transform="rotate(-90 231.0 477.2)" text-anchor="middle" font-size="5.9" fill="#444">20</text>
<text x="231.0" y="463.6" transform="rotate(-90 231.0 463.6)" text-anchor="middle" font-size="5.9" fill="#444">40</text>
<text x="231.0" y="450.1" transform="rotate(-90 231.0 450.1)" text-anchor="middle" font-size="5.9" fill="#444">60</text>
<text x="231.0" y="436.5" transform="rotate(-90 231.0 436.5)" text-anchor="middle" font-size="5.9" fill="#444">80</text>
<text x="231.0" y="423.0" transform="rotate(-90 231.0 423.0)" text-anchor="middle" font-size="5.9" fill="#444">100</text>
<text x="238.5" y="500.9" text-anchor="middle" font-size="6.1" fill="#444">10<tspan dy="-2.1" font-size="4.4">0</tspan></text>
<text x="273.0" y="500.9" text-anchor="middle" font-size="6.1" fill="#444">10<tspan dy="-2.1" font-size="4.4">1</tspan></text>
<text x="307.5" y="500.9" text-anchor="middle" font-size="6.1" fill="#444">10<tspan dy="-2.1" font-size="4.4">2</tspan></text>
<text x="342.0" y="500.9" text-anchor="middle" font-size="6.1" fill="#444">10<tspan dy="-2.1" font-size="4.4">3</tspan></text></g>
<g><path d="M391.5 484.5 L391.5 464.2 L393.1 478.0 L396.5 475.7 L399.3 466.5 L401.6 458.4 L404.6 453.8 L406.2 443.4 L408.1 432.3 L409.9 427.2 L411.8 432.3 L414.1 431.4 L416.4 439.2 L418.7 454.9 L421.0 469.2 L423.8 479.2 L427.7 484.5Z" fill="#767676" stroke="#767676" stroke-width="0.6"/>
<path d="M394.2 482.6 L400.7 474.5 L405.8 460.7 L409.5 446.8 L412.7 437.6 L415.9 434.6 L418.7 439.9 L421.0 456.1 L423.3 472.2 L427.0 479.8 L438.1 481.5" fill="none" stroke="#8a8a8a" stroke-width="1.3" stroke-linejoin="round"/>
<path d="M391.5 480.3 L396.5 479.2 L400.7 472.2 L403.9 463.7 L407.2 452.6 L409.9 439.9 L412.2 431.4 L413.8 428.4 L415.9 433.7 L418.0 445.7 L420.1 459.1 L422.4 471.1 L425.6 478.0 L432.3 481.2 L442.7 481.5 L454.2 482.6 L477.3 483.3 L493.5 483.8" fill="none" stroke="#000" stroke-width="1.7" stroke-dasharray="3 2.5" stroke-linejoin="round"/>
<path d="M392.4 484.5 V469.5" stroke="#111" stroke-width="1.3"/>
<path d="M393.3 481.7 L398.4 480.8 L403.0 476.8 L406.2 466.9 L408.5 454.9 L410.8 442.2 L413.2 433.7 L415.0 429.5 L416.8 433.0 L418.7 437.6 L420.5 441.1 L421.9 453.8 L423.8 464.2 L426.1 473.4 L429.3 475.7 L431.6 472.2 L434.4 469.9 L436.9 473.4 L440.4 478.5 L446.2 481.2 L453.8 481.7 L457.7 479.4 L461.2 479.8 L465.3 478.0 L468.5 481.2 L477.3 483.1 L486.5 483.8 L488.8 482.6 L491.2 483.8 L495.8 483.8" fill="none" stroke="#000" stroke-width="2.0" stroke-linejoin="round"/>
<path d="M392.3 416.8 V484.5" fill="none" stroke="#4a4a4a" stroke-width="1"/>
<path d="M391.8 484.5 H496.0" fill="none" stroke="#333" stroke-width="1.2"/>
<path d="M392.3 484.5 h-2.2 M392.3 481.1 h-1.2 M392.3 477.7 h-1.2 M392.3 474.3 h-1.2 M392.3 471.0 h-2.2 M392.3 467.6 h-1.2 M392.3 464.2 h-1.2 M392.3 460.8 h-1.2 M392.3 457.4 h-2.2 M392.3 454.0 h-1.2 M392.3 450.6 h-1.2 M392.3 447.3 h-1.2 M392.3 443.9 h-2.2 M392.3 440.5 h-1.2 M392.3 437.1 h-1.2 M392.3 433.7 h-1.2 M392.3 430.3 h-2.2 M392.3 427.0 h-1.2 M392.3 423.6 h-1.2 M392.3 420.2 h-1.2 M392.3 416.8 h-2.2 M392.3 484.5 v2.2 M402.7 484.5 v1.2 M408.8 484.5 v1.2 M413.1 484.5 v1.2 M416.5 484.5 v1.2 M419.2 484.5 v1.2 M421.5 484.5 v1.2 M423.5 484.5 v1.2 M425.3 484.5 v1.2 M426.9 484.5 v2.2 M437.3 484.5 v1.2 M443.4 484.5 v1.2 M447.7 484.5 v1.2 M451.0 484.5 v1.2 M453.8 484.5 v1.2 M456.1 484.5 v1.2 M458.1 484.5 v1.2 M459.9 484.5 v1.2 M461.4 484.5 v2.2 M471.8 484.5 v1.2 M477.9 484.5 v1.2 M482.2 484.5 v1.2 M485.6 484.5 v1.2 M488.3 484.5 v1.2 M490.6 484.5 v1.2 M492.7 484.5 v1.2 M494.4 484.5 v1.2 M496.0 484.5 v2.2" stroke="#4a4a4a" stroke-width="0.6" fill="none"/>
<text x="388.1" y="484.5" transform="rotate(-90 388.1 484.5)" text-anchor="middle" font-size="5.9" fill="#444">0</text>
<text x="388.1" y="471.0" transform="rotate(-90 388.1 471.0)" text-anchor="middle" font-size="5.9" fill="#444">20</text>
<text x="388.1" y="457.4" transform="rotate(-90 388.1 457.4)" text-anchor="middle" font-size="5.9" fill="#444">40</text>
<text x="388.1" y="443.9" transform="rotate(-90 388.1 443.9)" text-anchor="middle" font-size="5.9" fill="#444">60</text>
<text x="388.1" y="430.3" transform="rotate(-90 388.1 430.3)" text-anchor="middle" font-size="5.9" fill="#444">80</text>
<text x="388.1" y="416.8" transform="rotate(-90 388.1 416.8)" text-anchor="middle" font-size="5.9" fill="#444">100</text>
<text x="395.6" y="494.7" text-anchor="middle" font-size="6.1" fill="#444">10<tspan dy="-2.1" font-size="4.4">0</tspan></text>
<text x="430.2" y="494.7" text-anchor="middle" font-size="6.1" fill="#444">10<tspan dy="-2.1" font-size="4.4">1</tspan></text>
<text x="464.7" y="494.7" text-anchor="middle" font-size="6.1" fill="#444">10<tspan dy="-2.1" font-size="4.4">2</tspan></text>
<text x="499.3" y="494.7" text-anchor="middle" font-size="6.1" fill="#444">10<tspan dy="-2.1" font-size="4.4">3</tspan></text></g>
<g><path d="M96.5 579.2 L96.5 567.0 L97.8 575.3 L103.4 573.5 L106.6 568.2 L109.6 556.6 L112.2 543.9 L114.9 532.4 L117.7 526.6 L120.5 523.2 L123.5 517.4 L125.1 527.3 L126.9 545.1 L128.8 561.2 L131.5 572.8 L135.0 577.4 L139.6 579.2Z" fill="#767676" stroke="#767676" stroke-width="0.6"/>
<path d="M113.1 564.7 L117.2 539.3 L121.2 525.5 L124.2 521.3 L126.9 534.7 L129.7 556.6 L132.9 569.8 L137.3 574.6 L150.0 575.8 L170.8 576.2 L186.9 575.3 L198.5 576.7" fill="none" stroke="#8a8a8a" stroke-width="1.3" stroke-linejoin="round"/>
<path d="M96.5 576.2 L103.4 573.9 L106.6 568.2 L109.6 556.6 L112.2 543.9 L114.9 533.5 L117.7 527.8 L121.2 523.2 L123.0 521.3 L125.1 527.8 L126.9 540.5 L128.8 555.5 L131.1 567.5 L134.3 573.5 L141.9 575.5 L159.2 576.9 L182.3 576.2 L198.5 577.4" fill="none" stroke="#000" stroke-width="1.7" stroke-dasharray="3 2.5" stroke-linejoin="round"/>
<path d="M97.4 579.2 V571.2" stroke="#111" stroke-width="1.3"/>
<path d="M97.8 576.2 L103.4 574.8 L108.0 572.1 L112.6 567.5 L115.4 554.3 L117.7 541.6 L120.0 532.4 L122.3 523.6 L124.2 518.1 L125.8 523.6 L128.1 527.8 L129.7 537.0 L131.5 550.8 L133.4 564.7 L135.7 572.1 L139.6 574.4 L147.7 575.3 L159.2 576.2 L170.8 575.5 L182.3 576.9 L198.5 577.4" fill="none" stroke="#000" stroke-width="2.0" stroke-linejoin="round"/>
<path d="M96.5 511.2 V579.4" fill="none" stroke="#4a4a4a" stroke-width="1"/>
<path d="M96.0 579.4 H199.0" fill="none" stroke="#333" stroke-width="1.2"/>
<path d="M96.5 579.4 h-2.2 M96.5 576.0 h-1.2 M96.5 572.6 h-1.2 M96.5 569.2 h-1.2 M96.5 565.8 h-2.2 M96.5 562.4 h-1.2 M96.5 558.9 h-1.2 M96.5 555.5 h-1.2 M96.5 552.1 h-2.2 M96.5 548.7 h-1.2 M96.5 545.3 h-1.2 M96.5 541.9 h-1.2 M96.5 538.5 h-2.2 M96.5 535.1 h-1.2 M96.5 531.7 h-1.2 M96.5 528.2 h-1.2 M96.5 524.8 h-2.2 M96.5 521.4 h-1.2 M96.5 518.0 h-1.2 M96.5 514.6 h-1.2 M96.5 511.2 h-2.2 M96.5 579.4 v2.2 M106.8 579.4 v1.2 M112.8 579.4 v1.2 M117.1 579.4 v1.2 M120.4 579.4 v1.2 M123.1 579.4 v1.2 M125.4 579.4 v1.2 M127.4 579.4 v1.2 M129.1 579.4 v1.2 M130.7 579.4 v2.2 M141.0 579.4 v1.2 M147.0 579.4 v1.2 M151.2 579.4 v1.2 M154.5 579.4 v1.2 M157.3 579.4 v1.2 M159.5 579.4 v1.2 M161.5 579.4 v1.2 M163.3 579.4 v1.2 M164.8 579.4 v2.2 M175.1 579.4 v1.2 M181.1 579.4 v1.2 M185.4 579.4 v1.2 M188.7 579.4 v1.2 M191.4 579.4 v1.2 M193.7 579.4 v1.2 M195.7 579.4 v1.2 M197.4 579.4 v1.2 M199.0 579.4 v2.2" stroke="#4a4a4a" stroke-width="0.6" fill="none"/>
<text x="92.3" y="579.4" transform="rotate(-90 92.3 579.4)" text-anchor="middle" font-size="5.9" fill="#444">0</text>
<text x="92.3" y="565.8" transform="rotate(-90 92.3 565.8)" text-anchor="middle" font-size="5.9" fill="#444">20</text>
<text x="92.3" y="552.1" transform="rotate(-90 92.3 552.1)" text-anchor="middle" font-size="5.9" fill="#444">40</text>
<text x="92.3" y="538.5" transform="rotate(-90 92.3 538.5)" text-anchor="middle" font-size="5.9" fill="#444">60</text>
<text x="92.3" y="524.8" transform="rotate(-90 92.3 524.8)" text-anchor="middle" font-size="5.9" fill="#444">80</text>
<text x="92.3" y="511.2" transform="rotate(-90 92.3 511.2)" text-anchor="middle" font-size="5.9" fill="#444">100</text>
<text x="99.8" y="589.6" text-anchor="middle" font-size="6.1" fill="#444">10<tspan dy="-2.1" font-size="4.4">0</tspan></text>
<text x="134.0" y="589.6" text-anchor="middle" font-size="6.1" fill="#444">10<tspan dy="-2.1" font-size="4.4">1</tspan></text>
<text x="168.1" y="589.6" text-anchor="middle" font-size="6.1" fill="#444">10<tspan dy="-2.1" font-size="4.4">2</tspan></text>
<text x="202.3" y="589.6" text-anchor="middle" font-size="6.1" fill="#444">10<tspan dy="-2.1" font-size="4.4">3</tspan></text></g>
<g><path d="M235.0 579.2 L235.0 560.1 L236.4 576.2 L241.0 573.5 L244.7 565.8 L247.9 553.2 L250.2 548.1 L252.5 541.6 L254.8 530.1 L257.2 521.3 L259.5 526.6 L261.8 528.2 L264.1 531.2 L266.4 545.1 L268.7 561.2 L271.7 572.8 L276.3 579.2Z" fill="#767676" stroke="#767676" stroke-width="0.6"/>
<path d="M238.2 576.2 L245.2 567.5 L250.2 553.2 L254.8 537.0 L258.5 526.6 L262.5 523.2 L265.5 527.8 L268.2 546.2 L271.0 564.7 L275.2 573.9 L283.2 574.4 L290.2 572.8 L295.9 575.8 L321.3 577.2" fill="none" stroke="#8a8a8a" stroke-width="1.3" stroke-linejoin="round"/>
<path d="M235.0 562.4 L236.8 575.1 L242.4 569.8 L245.6 563.5 L248.8 553.2 L251.6 548.5 L254.4 541.6 L257.2 533.5 L259.9 530.1 L262.2 540.5 L264.8 543.9 L267.1 553.2 L269.6 563.5 L272.8 571.6 L279.8 575.1 L289.0 573.9 L298.2 576.2 L321.3 577.4 L337.5 578.1" fill="none" stroke="#000" stroke-width="1.7" stroke-dasharray="3 2.5" stroke-linejoin="round"/>
<path d="M235.0 579.2 L236.8 577.6 L242.4 574.4 L247.0 569.8 L250.2 563.5 L253.0 552.0 L255.5 539.3 L258.1 528.9 L260.2 522.0 L261.8 519.0 L263.2 524.3 L265.0 522.7 L266.8 527.8 L268.7 539.3 L270.5 555.5 L272.4 568.8 L275.6 573.5 L280.2 575.3 L286.7 574.4 L293.2 573.7 L298.2 575.3 L305.2 575.8 L321.3 577.4 L337.5 578.1" fill="none" stroke="#000" stroke-width="2.0" stroke-linejoin="round"/>
<path d="M235.2 511.2 V579.4" fill="none" stroke="#4a4a4a" stroke-width="1"/>
<path d="M234.7 579.4 H338.7" fill="none" stroke="#333" stroke-width="1.2"/>
<path d="M235.2 579.4 h-2.2 M235.2 576.0 h-1.2 M235.2 572.6 h-1.2 M235.2 569.2 h-1.2 M235.2 565.8 h-2.2 M235.2 562.4 h-1.2 M235.2 558.9 h-1.2 M235.2 555.5 h-1.2 M235.2 552.1 h-2.2 M235.2 548.7 h-1.2 M235.2 545.3 h-1.2 M235.2 541.9 h-1.2 M235.2 538.5 h-2.2 M235.2 535.1 h-1.2 M235.2 531.7 h-1.2 M235.2 528.2 h-1.2 M235.2 524.8 h-2.2 M235.2 521.4 h-1.2 M235.2 518.0 h-1.2 M235.2 514.6 h-1.2 M235.2 511.2 h-2.2 M235.2 579.4 v2.2 M245.6 579.4 v1.2 M251.7 579.4 v1.2 M256.0 579.4 v1.2 M259.3 579.4 v1.2 M262.0 579.4 v1.2 M264.4 579.4 v1.2 M266.4 579.4 v1.2 M268.1 579.4 v1.2 M269.7 579.4 v2.2 M280.1 579.4 v1.2 M286.2 579.4 v1.2 M290.5 579.4 v1.2 M293.8 579.4 v1.2 M296.5 579.4 v1.2 M298.9 579.4 v1.2 M300.9 579.4 v1.2 M302.6 579.4 v1.2 M304.2 579.4 v2.2 M314.6 579.4 v1.2 M320.7 579.4 v1.2 M325.0 579.4 v1.2 M328.3 579.4 v1.2 M331.0 579.4 v1.2 M333.4 579.4 v1.2 M335.4 579.4 v1.2 M337.1 579.4 v1.2 M338.7 579.4 v2.2" stroke="#4a4a4a" stroke-width="0.6" fill="none"/>
<text x="231.0" y="579.4" transform="rotate(-90 231.0 579.4)" text-anchor="middle" font-size="5.9" fill="#444">0</text>
<text x="231.0" y="565.8" transform="rotate(-90 231.0 565.8)" text-anchor="middle" font-size="5.9" fill="#444">20</text>
<text x="231.0" y="552.1" transform="rotate(-90 231.0 552.1)" text-anchor="middle" font-size="5.9" fill="#444">40</text>
<text x="231.0" y="538.5" transform="rotate(-90 231.0 538.5)" text-anchor="middle" font-size="5.9" fill="#444">60</text>
<text x="231.0" y="524.8" transform="rotate(-90 231.0 524.8)" text-anchor="middle" font-size="5.9" fill="#444">80</text>
<text x="231.0" y="511.2" transform="rotate(-90 231.0 511.2)" text-anchor="middle" font-size="5.9" fill="#444">100</text>
<text x="238.5" y="589.6" text-anchor="middle" font-size="6.1" fill="#444">10<tspan dy="-2.1" font-size="4.4">0</tspan></text>
<text x="273.0" y="589.6" text-anchor="middle" font-size="6.1" fill="#444">10<tspan dy="-2.1" font-size="4.4">1</tspan></text>
<text x="307.5" y="589.6" text-anchor="middle" font-size="6.1" fill="#444">10<tspan dy="-2.1" font-size="4.4">2</tspan></text>
<text x="342.0" y="589.6" text-anchor="middle" font-size="6.1" fill="#444">10<tspan dy="-2.1" font-size="4.4">3</tspan></text></g>
<g><path d="M391.5 579.0 L396.5 578.1 L400.7 574.4 L404.6 565.8 L407.6 554.3 L410.4 541.6 L413.2 531.2 L415.9 523.6 L417.8 525.9 L419.6 524.3 L421.5 534.7 L423.8 550.8 L426.5 564.2 L430.0 572.8 L434.6 576.9 L440.4 579.0Z" fill="#767676" stroke="#767676" stroke-width="0.6"/>
<path d="M426.5 565.8 L430.7 570.5 L434.6 572.8 L440.4 576.2" fill="none" stroke="#8a8a8a" stroke-width="1.3" stroke-linejoin="round"/>
<path d="M391.5 578.1 L396.5 577.4 L400.7 573.5 L404.6 564.7 L407.6 553.2 L410.4 541.2 L413.2 531.9 L415.9 525.5 L419.2 527.3 L421.5 537.0 L423.8 552.0 L426.5 563.5 L430.0 570.5 L436.9 574.8 L445.0 575.8 L454.2 577.4 L477.3 578.5" fill="none" stroke="#000" stroke-width="1.7" stroke-dasharray="3 2.5" stroke-linejoin="round"/>
<path d="M391.5 579.0 L396.5 577.6 L400.7 574.4 L404.8 565.8 L408.1 554.3 L410.8 541.6 L413.6 531.9 L415.7 525.5 L417.8 528.2 L419.6 531.2 L421.5 541.2 L423.8 555.5 L426.5 565.8 L430.0 571.6 L435.8 575.5 L445.0 576.9 L454.2 577.4 L477.3 578.5 L493.5 579.0" fill="none" stroke="#000" stroke-width="2.0" stroke-linejoin="round"/>
<path d="M392.3 511.2 V579.4" fill="none" stroke="#4a4a4a" stroke-width="1"/>
<path d="M391.8 579.4 H496.0" fill="none" stroke="#333" stroke-width="1.2"/>
<path d="M392.3 579.4 h-2.2 M392.3 576.0 h-1.2 M392.3 572.6 h-1.2 M392.3 569.2 h-1.2 M392.3 565.8 h-2.2 M392.3 562.4 h-1.2 M392.3 558.9 h-1.2 M392.3 555.5 h-1.2 M392.3 552.1 h-2.2 M392.3 548.7 h-1.2 M392.3 545.3 h-1.2 M392.3 541.9 h-1.2 M392.3 538.5 h-2.2 M392.3 535.1 h-1.2 M392.3 531.7 h-1.2 M392.3 528.2 h-1.2 M392.3 524.8 h-2.2 M392.3 521.4 h-1.2 M392.3 518.0 h-1.2 M392.3 514.6 h-1.2 M392.3 511.2 h-2.2 M392.3 579.4 v2.2 M402.7 579.4 v1.2 M408.8 579.4 v1.2 M413.1 579.4 v1.2 M416.5 579.4 v1.2 M419.2 579.4 v1.2 M421.5 579.4 v1.2 M423.5 579.4 v1.2 M425.3 579.4 v1.2 M426.9 579.4 v2.2 M437.3 579.4 v1.2 M443.4 579.4 v1.2 M447.7 579.4 v1.2 M451.0 579.4 v1.2 M453.8 579.4 v1.2 M456.1 579.4 v1.2 M458.1 579.4 v1.2 M459.9 579.4 v1.2 M461.4 579.4 v2.2 M471.8 579.4 v1.2 M477.9 579.4 v1.2 M482.2 579.4 v1.2 M485.6 579.4 v1.2 M488.3 579.4 v1.2 M490.6 579.4 v1.2 M492.7 579.4 v1.2 M494.4 579.4 v1.2 M496.0 579.4 v2.2" stroke="#4a4a4a" stroke-width="0.6" fill="none"/>
<text x="388.1" y="579.4" transform="rotate(-90 388.1 579.4)" text-anchor="middle" font-size="5.9" fill="#444">0</text>
<text x="388.1" y="565.8" transform="rotate(-90 388.1 565.8)" text-anchor="middle" font-size="5.9" fill="#444">20</text>
<text x="388.1" y="552.1" transform="rotate(-90 388.1 552.1)" text-anchor="middle" font-size="5.9" fill="#444">40</text>
<text x="388.1" y="538.5" transform="rotate(-90 388.1 538.5)" text-anchor="middle" font-size="5.9" fill="#444">60</text>
<text x="388.1" y="524.8" transform="rotate(-90 388.1 524.8)" text-anchor="middle" font-size="5.9" fill="#444">80</text>
<text x="388.1" y="511.2" transform="rotate(-90 388.1 511.2)" text-anchor="middle" font-size="5.9" fill="#444">100</text>
<text x="395.6" y="589.6" text-anchor="middle" font-size="6.1" fill="#444">10<tspan dy="-2.1" font-size="4.4">0</tspan></text>
<text x="430.2" y="589.6" text-anchor="middle" font-size="6.1" fill="#444">10<tspan dy="-2.1" font-size="4.4">1</tspan></text>
<text x="464.7" y="589.6" text-anchor="middle" font-size="6.1" fill="#444">10<tspan dy="-2.1" font-size="4.4">2</tspan></text>
<text x="499.3" y="589.6" text-anchor="middle" font-size="6.1" fill="#444">10<tspan dy="-2.1" font-size="4.4">3</tspan></text></g>
<g><path d="M96.5 673.2 L96.5 656.4 L98.1 670.2 L103.4 668.4 L108.0 661.5 L111.9 650.6 L114.9 639.1 L117.7 629.8 L120.5 622.9 L122.8 616.0 L125.1 619.5 L127.4 624.1 L129.7 637.9 L132.0 654.1 L135.0 667.9 L139.6 673.2Z" fill="#767676" stroke="#767676" stroke-width="0.6"/>
<path d="M103.8 669.8 L110.8 658.7 L115.8 642.5 L120.0 627.5 L123.7 620.6 L126.5 619.9 L128.8 627.5 L131.5 644.8 L134.3 661.0 L137.5 670.2 L143.1 672.1" fill="none" stroke="#8a8a8a" stroke-width="1.3" stroke-linejoin="round"/>
<path d="M96.5 670.2 L101.5 669.1 L106.6 663.8 L110.8 654.5 L114.2 642.5 L117.2 631.0 L120.0 624.1 L122.8 620.4 L125.1 619.5 L126.9 625.2 L129.2 639.1 L132.0 655.2 L135.0 666.8 L140.8 672.1" fill="none" stroke="#000" stroke-width="1.7" stroke-dasharray="3 2.5" stroke-linejoin="round"/>
<path d="M97.4 673.2 V661.7" stroke="#111" stroke-width="1.3"/>
<path d="M98.3 671.4 L103.4 670.5 L108.5 667.9 L112.6 662.2 L115.8 654.1 L118.8 641.4 L121.4 631.0 L123.7 623.6 L125.8 619.0 L127.8 621.3 L129.7 626.4 L131.5 634.5 L133.4 647.2 L135.7 661.5 L138.9 669.8 L145.4 672.1 L159.2 672.1 L163.8 670.9 L170.8 672.1 L198.5 672.8" fill="none" stroke="#000" stroke-width="2.0" stroke-linejoin="round"/>
<path d="M96.5 605.3 V673.3" fill="none" stroke="#4a4a4a" stroke-width="1"/>
<path d="M96.0 673.3 H199.0" fill="none" stroke="#333" stroke-width="1.2"/>
<path d="M96.5 673.3 h-2.2 M96.5 669.9 h-1.2 M96.5 666.5 h-1.2 M96.5 663.1 h-1.2 M96.5 659.7 h-2.2 M96.5 656.3 h-1.2 M96.5 652.9 h-1.2 M96.5 649.5 h-1.2 M96.5 646.1 h-2.2 M96.5 642.7 h-1.2 M96.5 639.3 h-1.2 M96.5 635.9 h-1.2 M96.5 632.5 h-2.2 M96.5 629.1 h-1.2 M96.5 625.7 h-1.2 M96.5 622.3 h-1.2 M96.5 618.9 h-2.2 M96.5 615.5 h-1.2 M96.5 612.1 h-1.2 M96.5 608.7 h-1.2 M96.5 605.3 h-2.2 M96.5 673.3 v2.2 M106.8 673.3 v1.2 M112.8 673.3 v1.2 M117.1 673.3 v1.2 M120.4 673.3 v1.2 M123.1 673.3 v1.2 M125.4 673.3 v1.2 M127.4 673.3 v1.2 M129.1 673.3 v1.2 M130.7 673.3 v2.2 M141.0 673.3 v1.2 M147.0 673.3 v1.2 M151.2 673.3 v1.2 M154.5 673.3 v1.2 M157.3 673.3 v1.2 M159.5 673.3 v1.2 M161.5 673.3 v1.2 M163.3 673.3 v1.2 M164.8 673.3 v2.2 M175.1 673.3 v1.2 M181.1 673.3 v1.2 M185.4 673.3 v1.2 M188.7 673.3 v1.2 M191.4 673.3 v1.2 M193.7 673.3 v1.2 M195.7 673.3 v1.2 M197.4 673.3 v1.2 M199.0 673.3 v2.2" stroke="#4a4a4a" stroke-width="0.6" fill="none"/>
<text x="88.1" y="673.3" transform="rotate(90 88.1 673.3)" text-anchor="middle" font-size="5.9" fill="#444">0</text>
<text x="88.1" y="659.7" transform="rotate(90 88.1 659.7)" text-anchor="middle" font-size="5.9" fill="#444">20</text>
<text x="88.1" y="646.1" transform="rotate(90 88.1 646.1)" text-anchor="middle" font-size="5.9" fill="#444">40</text>
<text x="88.1" y="632.5" transform="rotate(90 88.1 632.5)" text-anchor="middle" font-size="5.9" fill="#444">60</text>
<text x="88.1" y="618.9" transform="rotate(90 88.1 618.9)" text-anchor="middle" font-size="5.9" fill="#444">80</text>
<text x="88.1" y="605.3" transform="rotate(90 88.1 605.3)" text-anchor="middle" font-size="5.9" fill="#444">100</text>
<text x="99.8" y="683.5" text-anchor="middle" font-size="6.1" fill="#444">10<tspan dy="-2.1" font-size="4.4">0</tspan></text>
<text x="134.0" y="683.5" text-anchor="middle" font-size="6.1" fill="#444">10<tspan dy="-2.1" font-size="4.4">1</tspan></text>
<text x="168.1" y="683.5" text-anchor="middle" font-size="6.1" fill="#444">10<tspan dy="-2.1" font-size="4.4">2</tspan></text>
<text x="202.3" y="683.5" text-anchor="middle" font-size="6.1" fill="#444">10<tspan dy="-2.1" font-size="4.4">3</tspan></text></g>
<g><path d="M235.0 673.2 L235.0 654.1 L236.6 670.2 L241.0 667.5 L245.6 659.8 L249.3 650.6 L252.1 640.2 L254.4 628.7 L257.2 620.6 L260.2 614.4 L263.2 612.1 L265.5 619.5 L267.8 633.3 L270.1 649.5 L272.4 663.8 L275.6 671.6 L278.6 673.2Z" fill="#767676" stroke="#767676" stroke-width="0.6"/>
<path d="M240.5 670.2 L247.5 661.5 L252.5 647.2 L256.7 631.0 L260.4 619.5 L263.6 614.4 L266.4 622.9 L269.2 639.1 L271.9 657.5 L275.2 669.1 L280.9 671.6" fill="none" stroke="#8a8a8a" stroke-width="1.3" stroke-linejoin="round"/>
<path d="M235.0 670.2 L240.1 669.3 L245.2 662.8 L249.3 652.9 L252.5 641.4 L255.3 631.0 L258.1 624.1 L260.8 617.6 L263.6 613.7 L265.5 621.3 L267.8 635.6 L270.5 654.1 L273.3 666.1 L278.6 671.4" fill="none" stroke="#000" stroke-width="1.7" stroke-dasharray="3 2.5" stroke-linejoin="round"/>
<path d="M235.9 673.2 V659.4" stroke="#111" stroke-width="1.3"/>
<path d="M236.8 671.6 L242.4 669.5 L247.0 666.5 L251.2 658.7 L254.4 649.5 L257.2 639.1 L259.9 627.5 L262.2 617.2 L264.1 612.1 L265.9 616.7 L267.8 626.4 L269.6 639.1 L271.5 650.6 L273.3 662.2 L276.3 669.1 L282.1 670.9 L298.2 671.4 L305.2 670.9 L321.3 672.5 L337.5 672.8" fill="none" stroke="#000" stroke-width="2.0" stroke-linejoin="round"/>
<path d="M235.2 605.3 V673.3" fill="none" stroke="#4a4a4a" stroke-width="1"/>
<path d="M234.7 673.3 H338.7" fill="none" stroke="#333" stroke-width="1.2"/>
<path d="M235.2 673.3 h-2.2 M235.2 669.9 h-1.2 M235.2 666.5 h-1.2 M235.2 663.1 h-1.2 M235.2 659.7 h-2.2 M235.2 656.3 h-1.2 M235.2 652.9 h-1.2 M235.2 649.5 h-1.2 M235.2 646.1 h-2.2 M235.2 642.7 h-1.2 M235.2 639.3 h-1.2 M235.2 635.9 h-1.2 M235.2 632.5 h-2.2 M235.2 629.1 h-1.2 M235.2 625.7 h-1.2 M235.2 622.3 h-1.2 M235.2 618.9 h-2.2 M235.2 615.5 h-1.2 M235.2 612.1 h-1.2 M235.2 608.7 h-1.2 M235.2 605.3 h-2.2 M235.2 673.3 v2.2 M245.6 673.3 v1.2 M251.7 673.3 v1.2 M256.0 673.3 v1.2 M259.3 673.3 v1.2 M262.0 673.3 v1.2 M264.4 673.3 v1.2 M266.4 673.3 v1.2 M268.1 673.3 v1.2 M269.7 673.3 v2.2 M280.1 673.3 v1.2 M286.2 673.3 v1.2 M290.5 673.3 v1.2 M293.8 673.3 v1.2 M296.5 673.3 v1.2 M298.9 673.3 v1.2 M300.9 673.3 v1.2 M302.6 673.3 v1.2 M304.2 673.3 v2.2 M314.6 673.3 v1.2 M320.7 673.3 v1.2 M325.0 673.3 v1.2 M328.3 673.3 v1.2 M331.0 673.3 v1.2 M333.4 673.3 v1.2 M335.4 673.3 v1.2 M337.1 673.3 v1.2 M338.7 673.3 v2.2" stroke="#4a4a4a" stroke-width="0.6" fill="none"/>
<text x="226.8" y="673.3" transform="rotate(90 226.8 673.3)" text-anchor="middle" font-size="5.9" fill="#444">0</text>
<text x="226.8" y="659.7" transform="rotate(90 226.8 659.7)" text-anchor="middle" font-size="5.9" fill="#444">20</text>
<text x="226.8" y="646.1" transform="rotate(90 226.8 646.1)" text-anchor="middle" font-size="5.9" fill="#444">40</text>
<text x="226.8" y="632.5" transform="rotate(90 226.8 632.5)" text-anchor="middle" font-size="5.9" fill="#444">60</text>
<text x="226.8" y="618.9" transform="rotate(90 226.8 618.9)" text-anchor="middle" font-size="5.9" fill="#444">80</text>
<text x="226.8" y="605.3" transform="rotate(90 226.8 605.3)" text-anchor="middle" font-size="5.9" fill="#444">100</text>
<text x="238.5" y="683.5" text-anchor="middle" font-size="6.1" fill="#444">10<tspan dy="-2.1" font-size="4.4">0</tspan></text>
<text x="273.0" y="683.5" text-anchor="middle" font-size="6.1" fill="#444">10<tspan dy="-2.1" font-size="4.4">1</tspan></text>
<text x="307.5" y="683.5" text-anchor="middle" font-size="6.1" fill="#444">10<tspan dy="-2.1" font-size="4.4">2</tspan></text>
<text x="342.0" y="683.5" text-anchor="middle" font-size="6.1" fill="#444">10<tspan dy="-2.1" font-size="4.4">3</tspan></text></g>
<g><path d="M391.5 673.0 L391.5 661.0 L393.3 670.2 L397.0 666.8 L400.2 657.5 L403.0 644.8 L405.3 631.0 L407.6 614.8 L409.5 619.9 L410.8 617.2 L412.2 612.5 L414.1 620.6 L416.4 633.3 L419.2 649.5 L422.4 661.5 L427.0 668.4 L433.5 672.1 L438.1 673.0Z" fill="#767676" stroke="#767676" stroke-width="0.6"/>
<path d="M419.6 650.6 L423.8 659.8 L430.0 662.8 L434.6 665.6 L439.2 669.3" fill="none" stroke="#8a8a8a" stroke-width="1.3" stroke-linejoin="round"/>
<path d="M391.5 663.3 L393.8 669.8 L397.5 663.8 L400.7 653.6 L403.9 639.1 L406.7 626.4 L409.5 619.5 L411.8 617.2 L414.1 622.9 L416.8 635.6 L419.6 648.3 L422.4 655.2 L426.5 661.5 L432.3 665.2 L439.2 669.3 L449.6 671.4 L458.8 672.5" fill="none" stroke="#000" stroke-width="1.7" stroke-dasharray="3 2.5" stroke-linejoin="round"/>
<path d="M392.4 673.0 V665.2" stroke="#111" stroke-width="1.3"/>
<path d="M393.8 670.7 L397.5 666.1 L401.2 655.9 L404.4 642.5 L407.2 628.7 L409.5 619.5 L412.2 612.1 L414.1 616.7 L416.4 622.9 L418.7 633.3 L421.0 645.3 L423.8 650.8 L427.5 651.8 L430.7 655.9 L433.9 660.5 L437.6 666.1 L442.2 669.1 L449.2 670.2 L456.5 672.1 L477.3 672.5 L493.5 673.0" fill="none" stroke="#000" stroke-width="2.0" stroke-linejoin="round"/>
<path d="M392.3 605.3 V673.3" fill="none" stroke="#4a4a4a" stroke-width="1"/>
<path d="M391.8 673.3 H496.0" fill="none" stroke="#333" stroke-width="1.2"/>
<path d="M392.3 673.3 h-2.2 M392.3 669.9 h-1.2 M392.3 666.5 h-1.2 M392.3 663.1 h-1.2 M392.3 659.7 h-2.2 M392.3 656.3 h-1.2 M392.3 652.9 h-1.2 M392.3 649.5 h-1.2 M392.3 646.1 h-2.2 M392.3 642.7 h-1.2 M392.3 639.3 h-1.2 M392.3 635.9 h-1.2 M392.3 632.5 h-2.2 M392.3 629.1 h-1.2 M392.3 625.7 h-1.2 M392.3 622.3 h-1.2 M392.3 618.9 h-2.2 M392.3 615.5 h-1.2 M392.3 612.1 h-1.2 M392.3 608.7 h-1.2 M392.3 605.3 h-2.2 M392.3 673.3 v2.2 M402.7 673.3 v1.2 M408.8 673.3 v1.2 M413.1 673.3 v1.2 M416.5 673.3 v1.2 M419.2 673.3 v1.2 M421.5 673.3 v1.2 M423.5 673.3 v1.2 M425.3 673.3 v1.2 M426.9 673.3 v2.2 M437.3 673.3 v1.2 M443.4 673.3 v1.2 M447.7 673.3 v1.2 M451.0 673.3 v1.2 M453.8 673.3 v1.2 M456.1 673.3 v1.2 M458.1 673.3 v1.2 M459.9 673.3 v1.2 M461.4 673.3 v2.2 M471.8 673.3 v1.2 M477.9 673.3 v1.2 M482.2 673.3 v1.2 M485.6 673.3 v1.2 M488.3 673.3 v1.2 M490.6 673.3 v1.2 M492.7 673.3 v1.2 M494.4 673.3 v1.2 M496.0 673.3 v2.2" stroke="#4a4a4a" stroke-width="0.6" fill="none"/>
<text x="383.9" y="673.3" transform="rotate(90 383.9 673.3)" text-anchor="middle" font-size="5.9" fill="#444">0</text>
<text x="383.9" y="659.7" transform="rotate(90 383.9 659.7)" text-anchor="middle" font-size="5.9" fill="#444">20</text>
<text x="383.9" y="646.1" transform="rotate(90 383.9 646.1)" text-anchor="middle" font-size="5.9" fill="#444">40</text>
<text x="383.9" y="632.5" transform="rotate(90 383.9 632.5)" text-anchor="middle" font-size="5.9" fill="#444">60</text>
<text x="383.9" y="618.9" transform="rotate(90 383.9 618.9)" text-anchor="middle" font-size="5.9" fill="#444">80</text>
<text x="383.9" y="605.3" transform="rotate(90 383.9 605.3)" text-anchor="middle" font-size="5.9" fill="#444">100</text>
<text x="395.6" y="683.5" text-anchor="middle" font-size="6.1" fill="#444">10<tspan dy="-2.1" font-size="4.4">0</tspan></text>
<text x="430.2" y="683.5" text-anchor="middle" font-size="6.1" fill="#444">10<tspan dy="-2.1" font-size="4.4">1</tspan></text>
<text x="464.7" y="683.5" text-anchor="middle" font-size="6.1" fill="#444">10<tspan dy="-2.1" font-size="4.4">2</tspan></text>
<text x="499.3" y="683.5" text-anchor="middle" font-size="6.1" fill="#444">10<tspan dy="-2.1" font-size="4.4">3</tspan></text></g>
<text x="4.3" y="20.3" font-size="22" font-weight="bold" fill="#000">A</text>
<text x="3.9" y="84.7" font-size="22" font-weight="bold" fill="#000">B</text>
<text x="26.2" y="736.8" font-size="22" font-weight="bold" fill="#000">C</text>
<text x="301.0" y="737.4" font-size="22" font-weight="bold" fill="#000">D</text>
<text x="301.4" y="968.1" font-size="22" font-weight="bold" fill="#000">E</text>
<text x="149.3" y="26.3" text-anchor="middle" font-size="13.3" fill="#000">CpG (A)</text>
<text x="398.2" y="25.5" text-anchor="middle" font-size="14.9" fill="#000"><tspan font-style="italic">STAT3</tspan> siRNA</text>
<text x="56" y="41.4" font-family="Liberation Mono, monospace" font-size="9.6" fill="#000" textLength="175" lengthAdjust="spacingAndGlyphs">5&#8217;<tspan font-weight="bold">G*G*TGCATCGATGCAGG*G*G*G*G</tspan></text>
<path d="M68.5 43.6 H231" stroke="#000" stroke-width="0.8"/>
<text x="304" y="41.2" font-family="Liberation Mono, monospace" font-size="9.6" font-weight="bold" fill="#000" textLength="183" lengthAdjust="spacingAndGlyphs">UCAGUCGUAUCUUUCUGCAGCUUCCGU 3&#8217;</text>
<text x="304" y="52.7" font-family="Liberation Mono, monospace" font-size="9.6" font-weight="bold" fill="#000" textLength="176" lengthAdjust="spacingAndGlyphs">AGUCAGCAUAGAAAGACGUCGAAGG 5&#8217;</text>
<path d="M304 54.3 H316.5" stroke="#000" stroke-width="0.8"/>
<text x="248.5" y="51.8" font-family="Liberation Mono, monospace" font-size="11" font-weight="bold" fill="#000" textLength="41" lengthAdjust="spacingAndGlyphs">linker</text>
<path d="M234.0 41.0 L238.8 29.0 L243.6 41.0 L248.5 29.0 L253.3 41.0 L258.1 29.0 L262.9 41.0 L267.8 29.0 L272.6 41.0 L277.4 29.0 L282.2 41.0 L287.0 29.0 L291.9 41.0 L296.7 29.0 L301.5 41.0" fill="none" stroke="#000" stroke-width="1.5" stroke-linejoin="round" stroke-linecap="round"/>
<path d="M460.5 54.5 V60.5" stroke="#000" stroke-width="0.8" stroke-dasharray="1 1"/>
<text x="455" y="70.6" font-size="12.8" fill="#000">Cy3</text>
<text x="226.7" y="101.8" text-anchor="middle" font-size="12.75" fill="#000">CpG(A)-<tspan font-style="italic">STAT3</tspan> siRNA<tspan dy="-3.6" font-size="8.8">Cy3</tspan></text>
<path d="M80.2 106.5 H344.4" stroke="#222" stroke-width="1"/>
<text x="437" y="101.8" text-anchor="middle" font-size="13.1" fill="#000"><tspan font-style="italic">STAT3</tspan> siRNA<tspan dy="-3.6" font-size="8.8">Cy3</tspan></text>
<path d="M363.7 106.5 H520" stroke="#222" stroke-width="1"/>
<text x="115.5" y="135.3" text-anchor="middle" font-size="13" fill="#000">Time</text>
<text x="259.6" y="135.3" text-anchor="middle" font-size="12.7" fill="#000">Dose</text>
<text x="410" y="135.3" text-anchor="middle" font-size="13" fill="#000">Time</text>
<rect x="149.2" y="114.5" width="10" height="3.6" fill="#767676"/>
<path d="M149.2 127.0 h4 m4 0 h2" stroke="#000" stroke-width="1.5"/>
<path d="M149.2 138.0 h10" stroke="#000" stroke-width="1.5" stroke-dasharray="1.4 1.1"/>
<path d="M149.2 149.6 h8.6" stroke="#000" stroke-width="2"/>
<text x="163.0" y="119.0" font-size="8" fill="#000" stroke="#000" stroke-width="0.12">Untreated</text>
<text x="163.0" y="129.7" font-size="8" fill="#000" stroke="#000" stroke-width="0.12">30 min, 250 nM</text>
<text x="163.0" y="140.7" font-size="8" fill="#000" stroke="#000" stroke-width="0.12">1hr, 250 nM</text>
<text x="163.0" y="152.3" font-size="8" fill="#000" stroke="#000" stroke-width="0.12">4 hr, 250 nM</text>
<rect x="286.8" y="114.5" width="10" height="3.6" fill="#767676"/>
<path d="M286.8 127.0 h4 m4 0 h2" stroke="#000" stroke-width="1.5"/>
<path d="M286.8 138.0 h10" stroke="#000" stroke-width="1.5" stroke-dasharray="1.4 1.1"/>
<path d="M286.8 149.6 h8.6" stroke="#000" stroke-width="2"/>
<text x="300.6" y="119.0" font-size="8" fill="#000" stroke="#000" stroke-width="0.12">Untreated</text>
<text x="300.6" y="129.7" font-size="8" fill="#000" stroke="#000" stroke-width="0.12">20 nM, 4 hr</text>
<text x="300.6" y="140.7" font-size="8" fill="#000" stroke="#000" stroke-width="0.12">100 nM, 4 hr</text>
<text x="300.6" y="152.3" font-size="8" fill="#000" stroke="#000" stroke-width="0.12">250 nM, 4 hr</text>
<rect x="439.4" y="114.5" width="10" height="3.6" fill="#767676"/>
<path d="M439.4 127.0 h4 m4 0 h2" stroke="#000" stroke-width="1.5"/>
<path d="M439.4 138.0 h10" stroke="#000" stroke-width="1.5" stroke-dasharray="1.4 1.1"/>
<path d="M439.4 149.6 h8.6" stroke="#000" stroke-width="2"/>
<text x="451.7" y="119.0" font-size="8" fill="#000" stroke="#000" stroke-width="0.12">Untreated</text>
<text x="451.7" y="129.7" font-size="8" fill="#000" stroke="#000" stroke-width="0.12">30 min, 250 nM</text>
<text x="451.7" y="140.7" font-size="8" fill="#000" stroke="#000" stroke-width="0.12">1hr, 250 nM</text>
<text x="451.7" y="152.3" font-size="8" fill="#000" stroke="#000" stroke-width="0.12">18 hr, 250 nM</text>
<text x="66.5" y="170.6" text-anchor="end" font-size="12.8" fill="#000">Monocytes</text>
<text x="66.5" y="258.5" text-anchor="end" font-size="12.8" fill="#000">pDCs</text>
<text x="66.5" y="351.0" text-anchor="end" font-size="12.8" fill="#000">mDCs</text>
<text x="66.5" y="435.2" text-anchor="end" font-size="12.8" fill="#000">B cells</text>
<text x="66.5" y="523.3" text-anchor="end" font-size="12.8" fill="#000">NK cells</text>
<text x="66.5" y="606.8" text-anchor="end" font-size="12.8" fill="#000">T cells</text>
<path d="M70.5 644 V688.3 H115" fill="none" stroke="#000" stroke-width="1.2"/>
<path d="M70.5 637.5 L67.3 645.5 H73.7Z" fill="#000"/>
<path d="M121.5 688.3 L113.5 685.1 V691.5Z" fill="#000"/>
<text x="60" y="668" transform="rotate(-90 60 668)" text-anchor="middle" font-size="12.6" fill="#000">% of Max</text>
<text x="76.7" y="708.3" font-size="12.6" fill="#000">Cy3</text>
<path d="M71.2 773.8 V895.5 H128.5" fill="none" stroke="#000" stroke-width="1.5"/>
<text transform="translate(67.1 898.5) scale(0.92 1)" text-anchor="end" font-size="8.2" font-weight="bold" fill="#111">0</text>
<text transform="translate(67.1 878.3) scale(0.92 1)" text-anchor="end" font-size="8.2" font-weight="bold" fill="#111">20</text>
<text transform="translate(67.1 858.1) scale(0.92 1)" text-anchor="end" font-size="8.2" font-weight="bold" fill="#111">40</text>
<text transform="translate(67.1 837.9) scale(0.92 1)" text-anchor="end" font-size="8.2" font-weight="bold" fill="#111">60</text>
<text transform="translate(67.1 817.7) scale(0.92 1)" text-anchor="end" font-size="8.2" font-weight="bold" fill="#111">80</text>
<text transform="translate(67.1 797.5) scale(0.92 1)" text-anchor="end" font-size="8.2" font-weight="bold" fill="#111">100</text>
<text transform="translate(67.1 777.3) scale(0.92 1)" text-anchor="end" font-size="8.2" font-weight="bold" fill="#111">120</text>
<path d="M71.2 895.5 h-3.2 M71.2 875.3 h-3.2 M71.2 855.1 h-3.2 M71.2 834.9 h-3.2 M71.2 814.7 h-3.2 M71.2 794.5 h-3.2 M71.2 774.3 h-3.2" stroke="#000" stroke-width="1.35"/>
<path d="M86.5 794.5 V788.9 M81.2 788.9 H91.9" stroke="#000" stroke-width="1.5" fill="none"/>
<rect x="77.3" y="794.5" width="18.5" height="101.0" fill="#000"/>
<path d="M114.2 852.4 V850.2 M108.5 850.2 H120.0" stroke="#000" stroke-width="1.5" fill="none"/>
<rect x="105.0" y="853.1" width="18.4" height="42.4" fill="#fff" stroke="#000" stroke-width="1.5"/>
<text x="51.0" y="834.0" transform="rotate(-90 51.0 834.0)" text-anchor="middle" font-size="10.4" font-style="italic" fill="#6a6a6a">STAT3:TBP (% of control)</text>
<text x="92" y="759.2" text-anchor="middle" font-size="10.2" fill="#111" letter-spacing="0.3">mDCs</text>
<path d="M85.2 782.0 H116.6" stroke="#111" stroke-width="1.3"/>
<text x="101.0" y="782.5" text-anchor="middle" font-size="11.5" font-weight="bold" fill="#111" letter-spacing="0.2">***</text>
<text x="91.5" y="904.0" transform="rotate(-47 91.5 904.0)" text-anchor="end" font-size="9.8"  fill="#111" stroke="#111" stroke-width="0.15"><tspan font-style="italic">CpG-Luc</tspan> <tspan font-size="7.8">si</tspan>RNA</text>
<text x="122.0" y="905.0" transform="rotate(-47 122.0 905.0)" text-anchor="end" font-size="9.8"  fill="#111" stroke="#111" stroke-width="0.15"><tspan font-style="italic">CpG-STAT3</tspan> <tspan font-size="7.8">si</tspan>RNA</text>
<path d="M186.8 772.0 V894.3 H247.0" fill="none" stroke="#000" stroke-width="1.5"/>
<text transform="translate(182.7 897.3) scale(0.92 1)" text-anchor="end" font-size="8.2" font-weight="bold" fill="#111">0</text>
<text transform="translate(182.7 877.0) scale(0.92 1)" text-anchor="end" font-size="8.2" font-weight="bold" fill="#111">20</text>
<text transform="translate(182.7 856.7) scale(0.92 1)" text-anchor="end" font-size="8.2" font-weight="bold" fill="#111">40</text>
<text transform="translate(182.7 836.4) scale(0.92 1)" text-anchor="end" font-size="8.2" font-weight="bold" fill="#111">60</text>
<text transform="translate(182.7 816.1) scale(0.92 1)" text-anchor="end" font-size="8.2" font-weight="bold" fill="#111">80</text>
<text transform="translate(182.7 795.8) scale(0.92 1)" text-anchor="end" font-size="8.2" font-weight="bold" fill="#111">100</text>
<text transform="translate(182.7 775.5) scale(0.92 1)" text-anchor="end" font-size="8.2" font-weight="bold" fill="#111">120</text>
<path d="M186.8 894.3 h-3.2 M186.8 874.0 h-3.2 M186.8 853.7 h-3.2 M186.8 833.4 h-3.2 M186.8 813.1 h-3.2 M186.8 792.8 h-3.2 M186.8 772.5 h-3.2" stroke="#000" stroke-width="1.35"/>
<path d="M202.0 792.3 V783.6 M196.2 783.6 H207.8" stroke="#000" stroke-width="1.5" fill="none"/>
<rect x="192.0" y="792.3" width="20.0" height="102.0" fill="#000"/>
<path d="M232.6 848.4 V847.8 M226.8 847.8 H238.5" stroke="#000" stroke-width="1.5" fill="none"/>
<rect x="223.3" y="849.2" width="18.6" height="45.1" fill="#fff" stroke="#000" stroke-width="1.5"/>
<text x="165.0" y="833.5" transform="rotate(-90 165.0 833.5)" text-anchor="middle" font-size="10.4" font-style="italic" fill="#6a6a6a">STAT3:TBP (% of control)</text>
<text x="208" y="758.5" text-anchor="middle" font-size="10.6" font-weight="bold" fill="#111" letter-spacing="0.3">pDCs</text>
<path d="M199.5 777.4 H231.2" stroke="#111" stroke-width="1.3"/>
<text x="214.5" y="778.1" text-anchor="middle" font-size="11.5" font-weight="bold" fill="#111" letter-spacing="0.2">**</text>
<text x="209.0" y="903.0" transform="rotate(-47 209.0 903.0)" text-anchor="end" font-size="9.8"  fill="#111" stroke="#111" stroke-width="0.15"><tspan font-style="italic">CpG-Luc</tspan> <tspan font-size="7.8">si</tspan>RNA</text>
<text x="240.5" y="904.0" transform="rotate(-47 240.5 904.0)" text-anchor="end" font-size="9.8"  fill="#111" stroke="#111" stroke-width="0.15"><tspan font-style="italic">CpG-STAT3</tspan> <tspan font-size="7.8">si</tspan>RNA</text>
<path d="M71.0 999.0 V1118.7 H125.5" fill="none" stroke="#000" stroke-width="1.5"/>
<text transform="translate(66.9 1121.7) scale(0.92 1)" text-anchor="end" font-size="8.2" font-weight="bold" fill="#111">0</text>
<text transform="translate(66.9 1101.8) scale(0.92 1)" text-anchor="end" font-size="8.2" font-weight="bold" fill="#111">20</text>
<text transform="translate(66.9 1081.9) scale(0.92 1)" text-anchor="end" font-size="8.2" font-weight="bold" fill="#111">40</text>
<text transform="translate(66.9 1062.1) scale(0.92 1)" text-anchor="end" font-size="8.2" font-weight="bold" fill="#111">60</text>
<text transform="translate(66.9 1042.2) scale(0.92 1)" text-anchor="end" font-size="8.2" font-weight="bold" fill="#111">80</text>
<text transform="translate(66.9 1022.4) scale(0.92 1)" text-anchor="end" font-size="8.2" font-weight="bold" fill="#111">100</text>
<text transform="translate(66.9 1002.5) scale(0.92 1)" text-anchor="end" font-size="8.2" font-weight="bold" fill="#111">120</text>
<path d="M71.0 1118.7 h-3.2 M71.0 1098.8 h-3.2 M71.0 1079.0 h-3.2 M71.0 1059.1 h-3.2 M71.0 1039.3 h-3.2 M71.0 1019.4 h-3.2 M71.0 999.5 h-3.2" stroke="#000" stroke-width="1.35"/>
<path d="M83.9 1019.4 V1011.2 M78.7 1011.2 H89.1" stroke="#000" stroke-width="1.5" fill="none"/>
<rect x="75.0" y="1019.4" width="17.8" height="99.3" fill="#000"/>
<path d="M111.2 1020.4 V1016.1 M105.9 1016.1 H116.6" stroke="#000" stroke-width="1.5" fill="none"/>
<rect x="102.8" y="1021.1" width="17.0" height="97.6" fill="#fff" stroke="#000" stroke-width="1.5"/>
<text x="47.5" y="1058.0" transform="rotate(-90 47.5 1058.0)" text-anchor="middle" font-size="10.5" font-style="italic" fill="#6a6a6a">STAT3:TBP (% of control)</text>
<text x="87.7" y="984.8" text-anchor="middle" font-size="11.2" font-weight="bold" fill="#111" letter-spacing="0.2">Monocytes</text>
<text x="91.0" y="1127.0" transform="rotate(-45 91.0 1127.0)" text-anchor="end" font-size="9.8"  fill="#111" stroke="#111" stroke-width="0.15"><tspan font-style="italic">CpG-Luc</tspan> <tspan font-size="7.8">si</tspan>RNA</text>
<text x="123.0" y="1128.0" transform="rotate(-45 123.0 1128.0)" text-anchor="end" font-size="9.8"  fill="#111" stroke="#111" stroke-width="0.15"><tspan font-style="italic">CpG-STAT3</tspan> <tspan font-size="7.8">si</tspan>RNA</text>
<path d="M193.6 1001.0 V1116.1 H251.0" fill="none" stroke="#000" stroke-width="1.5"/>
<text transform="translate(189.5 1119.1) scale(0.92 1)" text-anchor="end" font-size="8.2" font-weight="bold" fill="#111">0</text>
<text transform="translate(189.5 1100.0) scale(0.92 1)" text-anchor="end" font-size="8.2" font-weight="bold" fill="#111">20</text>
<text transform="translate(189.5 1080.9) scale(0.92 1)" text-anchor="end" font-size="8.2" font-weight="bold" fill="#111">40</text>
<text transform="translate(189.5 1061.8) scale(0.92 1)" text-anchor="end" font-size="8.2" font-weight="bold" fill="#111">60</text>
<text transform="translate(189.5 1042.7) scale(0.92 1)" text-anchor="end" font-size="8.2" font-weight="bold" fill="#111">80</text>
<text transform="translate(189.5 1023.6) scale(0.92 1)" text-anchor="end" font-size="8.2" font-weight="bold" fill="#111">100</text>
<text transform="translate(189.5 1004.5) scale(0.92 1)" text-anchor="end" font-size="8.2" font-weight="bold" fill="#111">120</text>
<path d="M193.6 1116.1 h-3.2 M193.6 1097.0 h-3.2 M193.6 1077.9 h-3.2 M193.6 1058.8 h-3.2 M193.6 1039.7 h-3.2 M193.6 1020.6 h-3.2 M193.6 1001.5 h-3.2" stroke="#000" stroke-width="1.35"/>
<path d="M208.7 1018.2 V1009.6 M202.9 1009.6 H214.4" stroke="#000" stroke-width="1.5" fill="none"/>
<rect x="198.8" y="1018.2" width="19.7" height="97.9" fill="#000"/>
<path d="M238.1 1051.8 V1044.7 M232.4 1044.7 H243.8" stroke="#000" stroke-width="1.5" fill="none"/>
<rect x="228.9" y="1052.6" width="18.3" height="63.5" fill="#fff" stroke="#000" stroke-width="1.5"/>
<text x="170.5" y="1058.0" transform="rotate(-90 170.5 1058.0)" text-anchor="middle" font-size="10.5" font-style="italic" fill="#6a6a6a">STAT3:TBP (% of control)</text>
<text x="213.8" y="985.8" text-anchor="middle" font-size="10.6" font-weight="bold" fill="#111" letter-spacing="0.2">B cells</text>
<path d="M207.0 1005.0 H238.0" stroke="#111" stroke-width="1.3"/>
<text x="222.3" y="1006.0" text-anchor="middle" font-size="11.5" font-weight="bold" fill="#111" letter-spacing="0.2">*</text>
<text x="215.0" y="1124.0" transform="rotate(-45 215.0 1124.0)" text-anchor="end" font-size="9.8"  fill="#111" stroke="#111" stroke-width="0.15"><tspan font-style="italic">CpG-Luc</tspan> <tspan font-size="7.8">si</tspan>RNA</text>
<text x="246.0" y="1125.0" transform="rotate(-45 246.0 1125.0)" text-anchor="end" font-size="9.8"  fill="#111" stroke="#111" stroke-width="0.15"><tspan font-style="italic">CpG-STAT3</tspan> <tspan font-size="7.8">si</tspan>RNA</text>
<path d="M363.0 746.7 V870.2 H497.3" fill="none" stroke="#000" stroke-width="1.9"/>
<text transform="translate(356.6 873.4) scale(1.06 1)" text-anchor="end" font-size="8.8" font-weight="bold" fill="#111">0</text>
<text transform="translate(356.6 852.9) scale(1.06 1)" text-anchor="end" font-size="8.8" font-weight="bold" fill="#111">20</text>
<text transform="translate(356.6 832.4) scale(1.06 1)" text-anchor="end" font-size="8.8" font-weight="bold" fill="#111">40</text>
<text transform="translate(356.6 811.9) scale(1.06 1)" text-anchor="end" font-size="8.8" font-weight="bold" fill="#111">60</text>
<text transform="translate(356.6 791.4) scale(1.06 1)" text-anchor="end" font-size="8.8" font-weight="bold" fill="#111">80</text>
<text transform="translate(356.6 770.9) scale(1.06 1)" text-anchor="end" font-size="8.8" font-weight="bold" fill="#111">100</text>
<text transform="translate(356.6 750.4) scale(1.06 1)" text-anchor="end" font-size="8.8" font-weight="bold" fill="#111">120</text>
<path d="M363.0 870.2 h-4.4 M363.0 849.7 h-4.4 M363.0 829.2 h-4.4 M363.0 808.7 h-4.4 M363.0 788.2 h-4.4 M363.0 767.7 h-4.4 M363.0 747.2 h-4.4" stroke="#000" stroke-width="1.71"/>
<path d="M376.5 867.5 V867.0 M371.0 867.0 H382.0" stroke="#000" stroke-width="1.9" fill="none"/>
<rect x="367.0" y="867.5" width="19.0" height="2.7" fill="#000"/>
<path d="M402.6 779.1 V769.4 M397.1 769.4 H408.2" stroke="#000" stroke-width="1.9" fill="none"/>
<rect x="393.0" y="779.1" width="19.3" height="91.1" fill="#000"/>
<path d="M429.4 865.5 V864.9 M423.8 864.9 H435.0" stroke="#000" stroke-width="1.9" fill="none"/>
<rect x="419.8" y="865.5" width="19.2" height="4.7" fill="#000"/>
<path d="M456.1 829.5 V824.5 M450.6 824.5 H461.7" stroke="#000" stroke-width="1.9" fill="none"/>
<rect x="446.5" y="829.5" width="19.3" height="40.7" fill="#000"/>
<path d="M482.7 767.3 V756.2 M476.9 756.2 H488.5" stroke="#000" stroke-width="1.9" fill="none"/>
<rect x="472.7" y="767.3" width="20.0" height="102.9" fill="#000"/>
<text x="334.2" y="817.5" transform="rotate(-90 334.2 817.5)" text-anchor="middle" font-size="12.8" font-style="italic" fill="#111">TLR9:TBP (% of control)</text>
<text x="380.8" y="875.7" transform="rotate(-90 380.8 875.7)" text-anchor="end" font-size="12.3" fill="#111" stroke="#111" stroke-width="0.3">Monocyte</text>
<text x="406.9" y="875.7" transform="rotate(-90 406.9 875.7)" text-anchor="end" font-size="12.3" fill="#111" stroke="#111" stroke-width="0.3">B cell</text>
<text x="433.7" y="875.7" transform="rotate(-90 433.7 875.7)" text-anchor="end" font-size="12.3" fill="#111" stroke="#111" stroke-width="0.3">T cell</text>
<text x="460.5" y="875.7" transform="rotate(-90 460.5 875.7)" text-anchor="end" font-size="12.3" fill="#111" stroke="#111" stroke-width="0.3">mDC</text>
<text x="487.0" y="875.7" transform="rotate(-90 487.0 875.7)" text-anchor="end" font-size="12.3" fill="#111" stroke="#111" stroke-width="0.3">pDC</text>
<path d="M364.8 996.0 V1118.4 H491.0" fill="none" stroke="#000" stroke-width="1.9"/>
<text transform="translate(357.7 1121.6) scale(1.04 1)" text-anchor="end" font-size="8.8" font-weight="bold" fill="#111">0</text>
<text transform="translate(357.7 1101.2) scale(1.04 1)" text-anchor="end" font-size="8.8" font-weight="bold" fill="#111">20</text>
<text transform="translate(357.7 1080.9) scale(1.04 1)" text-anchor="end" font-size="8.8" font-weight="bold" fill="#111">40</text>
<text transform="translate(357.7 1060.6) scale(1.04 1)" text-anchor="end" font-size="8.8" font-weight="bold" fill="#111">60</text>
<text transform="translate(357.7 1040.3) scale(1.04 1)" text-anchor="end" font-size="8.8" font-weight="bold" fill="#111">80</text>
<text transform="translate(357.7 1020.0) scale(1.04 1)" text-anchor="end" font-size="8.8" font-weight="bold" fill="#111">100</text>
<text transform="translate(357.7 999.6) scale(1.04 1)" text-anchor="end" font-size="8.8" font-weight="bold" fill="#111">120</text>
<path d="M364.8 1118.4 h-4.6 M364.8 1098.1 h-4.6 M364.8 1077.8 h-4.6 M364.8 1057.4 h-4.6 M364.8 1037.1 h-4.6 M364.8 1016.8 h-4.6 M364.8 996.5 h-4.6" stroke="#000" stroke-width="1.71"/>
<path d="M381.2 1020.9 V1016.2 M374.9 1016.2 H387.5" stroke="#000" stroke-width="1.9" fill="none"/>
<rect x="370.4" y="1020.9" width="21.6" height="97.5" fill="#000"/>
<path d="M413.2 1025.7 V1017.9 M406.9 1017.9 H419.6" stroke="#000" stroke-width="1.9" fill="none"/>
<rect x="402.3" y="1025.7" width="21.9" height="92.7" fill="#000"/>
<path d="M445.2 1016.6 V1003.8 M438.8 1003.8 H451.6" stroke="#000" stroke-width="1.9" fill="none"/>
<rect x="434.2" y="1016.6" width="22.0" height="101.8" fill="#000"/>
<path d="M476.8 1063.5 V1056.0 M470.4 1056.0 H483.1" stroke="#000" stroke-width="1.9" fill="none"/>
<rect x="466.8" y="1064.5" width="20.0" height="53.9" fill="#fff" stroke="#000" stroke-width="1.9"/>
<text x="333.8" y="1056.5" transform="rotate(-90 333.8 1056.5)" text-anchor="middle" font-size="10.7" font-style="italic" fill="#6a6a6a">STAT3:TBP (% of control)</text>
<path d="M380.4 980.4 H478.0" stroke="#111" stroke-width="1.3"/>
<text x="424.2" y="981.8" text-anchor="middle" font-size="10.5" font-weight="bold" fill="#111" letter-spacing="0.2">**</text>
<path d="M412.7 990.8 H478.0" stroke="#111" stroke-width="1.3"/>
<text x="443.5" y="992.1" text-anchor="middle" font-size="10.5" font-weight="bold" fill="#111" letter-spacing="0.2">**</text>
<path d="M444.6 1001.2 H478.0" stroke="#111" stroke-width="1.3"/>
<text x="458.3" y="1002.4" text-anchor="middle" font-size="10.5" font-weight="bold" fill="#111" letter-spacing="0.2">***</text>
<text x="385.5" y="1129.5" transform="rotate(-39 385.5 1129.5)" text-anchor="end" font-size="10.5" font-weight="bold" fill="#111" stroke="#111" stroke-width="0.15">CpG</text>
<text x="417.5" y="1129.5" transform="rotate(-39 417.5 1129.5)" text-anchor="end" font-size="10.5" font-weight="bold" fill="#111" stroke="#111" stroke-width="0.15">CpG-Con RNA</text>
<text x="449.0" y="1129.5" transform="rotate(-39 449.0 1129.5)" text-anchor="end" font-size="10.5" font-weight="bold" fill="#111" stroke="#111" stroke-width="0.15">GpC-STAT3 siRNA</text>
<text x="481.0" y="1129.5" transform="rotate(-39 481.0 1129.5)" text-anchor="end" font-size="10.5" font-weight="bold" fill="#111" stroke="#111" stroke-width="0.15">CpG-STAT3 siRNA</text>
</svg></div>
</body></html>
